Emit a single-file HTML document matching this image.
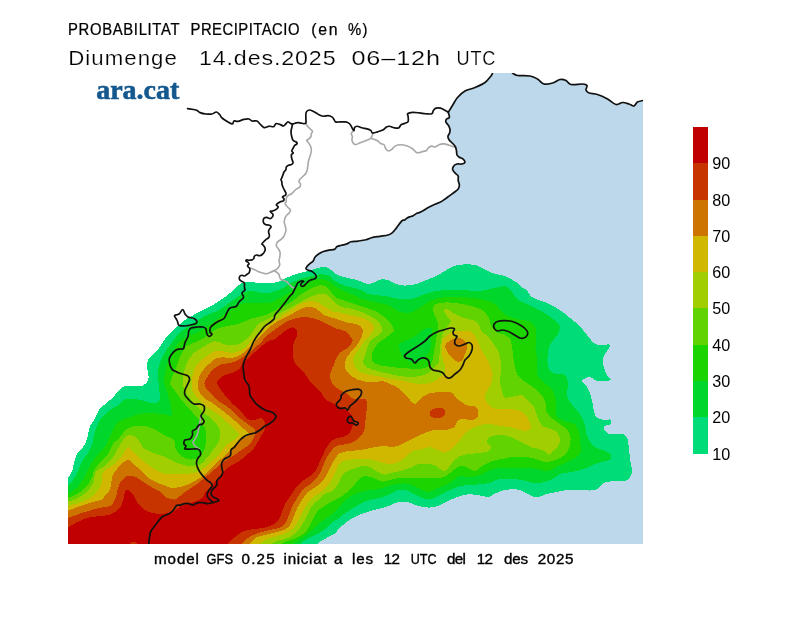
<!DOCTYPE html>
<html><head><meta charset="utf-8"><title>Probabilitat precipitacio</title>
<style>
html,body{margin:0;padding:0;background:#fff;}
body{width:800px;height:617px;position:relative;overflow:hidden;font-family:"Liberation Sans",sans-serif;}
svg text{font-family:"Liberation Sans",sans-serif;fill:#000;}
</style></head><body>
<svg width="800" height="617" viewBox="0 0 800 617" style="position:absolute;left:0;top:0">
<defs><clipPath id="m"><rect x="68" y="73" width="575" height="471"/></clipPath></defs>
<g clip-path="url(#m)"><g shape-rendering="crispEdges">
<path d="M492.5 73 491 76 485 82.5 475 87.5 465 91 457.5 97.5 452.75 105 450.1 109.4 448.4 112.4 449.2 115.5 449.2 117.7 446.6 119 445.75 121.6 447.5 124.25 449.2 126.9 450.1 130.4 449.2 133.9 447.9 136.5 449.2 140 452.75 143.5 455.5 147 456.5 151 457 155 459.4 157.3 463.1 159.1 464.9 162.2 461.9 164 457 164 453.4 166.4 452.8 170.1 455.8 173.7 458.2 176.1 458.2 180.4 459.4 185.3 458.2 188.9 454.6 192 449.7 195.6 444.8 199.2 440 202.3 433.9 204.7 427.8 207.75 423 210.8 419.3 212.6 416.9 213.2 413.2 215.65 409.6 216.9 407.2 218.1 404.7 219.9 402.3 220.5 400.4 222.6 396.3 228.1 392.2 232.9 388 235 379.8 236.3 371.5 237.7 366 239.8 357.8 241.1 350.9 241.8 346.8 243.9 341.3 245.3 337.1 246.6 334.4 249.4 328.9 250.1 323.4 251.5 319.3 253.5 315.1 257 313.1 261.1 309.6 263.8 306.9 266.6 306 268.75 308.25 270.25 311.25 271 314.25 273.25 316 275.5 316 277.75 313.5 279.25 310.5 280 308.25 281.5 306 283.75 303.75 286 301.5 286 300.75 284.5 302.25 282.25 303.75 281.5 302.25 280.75 300 281.5 297.75 283 296.25 286 294.75 289 292.5 293.5 290 296 285 302.5 280 309 275 315 274 319 270 322.5 265 326 261 331 256 337.5 252.5 344 250 350 246.5 356 243.5 363.5 243.5 371 245 380 249 386 250 395 254 401 257.5 405 265 410 272.5 412.5 276 416 274 420 269 424 265 426 260 430 255 433 250 434 245 436 240 440 236 445 234 447.5 231 450 230.6 455 228.6 456.9 224.7 458.9 221.8 462.8 221.8 467.6 222.8 472.5 220.9 476.4 217 480.3 217 484.2 215 487.1 212.1 490 211.1 493.9 213.1 496.8 217 498.8 218.9 500.7 216 501.7 212.1 502.7 207.2 503.6 203.3 502.7 199.5 502.7 195.6 503.6 192.6 505.1 188.8 503.6 184.9 503.6 180 505.1 176.5 505.5 173.5 510 169 513.75 161.5 517.5 155.5 525 151 531 149.5 537 148.75 544 L643 544 L643 100.5 L643 100.5 L637.5 102 L634 106 L629 104 L622.5 102.5 L616 104.5 L607.5 99 L597.5 94.5 L589 93 L586 90 L587 85.5 L582.5 84 L571 84.5 L566 80.5 L560 79.5 L552.5 83 L544 84 L537.5 79 L530 76 L517.5 75.5 L512.5 73 L492.5 73 Z" fill="#bdd8eb"/>
<path d="M68 477.5C68.38 477 69.5 475.75 70.25 474.5C71 473.25 71.88 472 72.5 470C73.12 468 73.5 464.5 74 462.5C74.5 460.5 75 459.42 75.5 458C76 456.58 76.25 455.33 77 454C77.75 452.67 78.73 451.5 80 450C81.27 448.5 83.27 447.5 84.6 445C85.93 442.5 87.1 438.17 88 435C88.9 431.83 89 428.5 90 426C91 423.5 92.5 422.67 94 420C95.5 417.33 97.33 412.5 99 410C100.67 407.5 102.17 406.67 104 405C105.83 403.33 108.17 401.67 110 400C111.83 398.33 113.5 396.67 115 395C116.5 393.33 117.33 391.5 119 390C120.67 388.5 122.33 386.67 125 386C127.67 385.33 132.04 386.07 135 386C137.96 385.93 140.62 386.43 142.75 385.6C144.88 384.77 146.79 382.6 147.75 381C148.71 379.4 148.54 377.83 148.5 376C148.46 374.17 147.75 371.83 147.5 370C147.25 368.17 146.92 366.67 147 365C147.08 363.33 147.17 361.67 148 360C148.83 358.33 150.17 357 152 355C153.83 353 156.83 350.67 159 348C161.17 345.33 163 341.5 165 339C167 336.5 168.83 335.17 171 333C173.17 330.83 175.67 328.17 178 326C180.33 323.83 182.58 321.73 185 320C187.42 318.27 190 317.02 192.5 315.6C195 314.18 197.5 312.77 200 311.5C202.5 310.23 204.83 309.42 207.5 308C210.17 306.58 213.08 304.83 216 303C218.92 301.17 222.25 299 225 297C227.75 295 230.17 293 232.5 291C234.83 289 237.33 286.33 239 285C240.67 283.67 240.67 283.5 242.5 283C244.33 282.5 247.08 282 250 282C252.92 282 256.67 282.83 260 283C263.33 283.17 267.08 283.17 270 283C272.92 282.83 275 282.75 277.5 282C280 281.25 282.5 279.58 285 278.5C287.5 277.42 290 276.42 292.5 275.5C295 274.58 297.5 273.75 300 273C302.5 272.25 305.5 271.5 307.5 271C309.5 270.5 310.25 270.5 312 270C313.75 269.5 316 268.5 318 268C320 267.5 322.33 267 324 267C325.67 267 326.58 267.33 328 268C329.42 268.67 330.92 269.83 332.5 271C334.08 272.17 335.58 274 337.5 275C339.42 276 341.5 276.33 344 277C346.5 277.67 349.83 278.33 352.5 279C355.17 279.67 357.5 280.17 360 281C362.5 281.83 365.42 283.67 367.5 284C369.58 284.33 370.58 283.67 372.5 283C374.42 282.33 377.08 280.6 379 280C380.92 279.4 382.17 279.23 384 279.4C385.83 279.57 387.75 280.17 390 281C392.25 281.83 395 283.63 397.5 284.4C400 285.17 402.08 285.6 405 285.6C407.92 285.6 411.83 285.17 415 284.4C418.17 283.63 421.08 282.15 424 281C426.92 279.85 429.83 278.67 432.5 277.5C435.17 276.33 437.5 275.35 440 274C442.5 272.65 445 270.8 447.5 269.4C450 268 452.08 266.43 455 265.6C457.92 264.77 461.67 264.5 465 264.4C468.33 264.3 472.08 264.4 475 265C477.92 265.6 480 266.83 482.5 268C485 269.17 487.5 270.93 490 272C492.5 273.07 495 273.73 497.5 274.4C500 275.07 502.5 275.07 505 276C507.5 276.93 510.42 278.83 512.5 280C514.58 281.17 515.83 281.75 517.5 283C519.17 284.25 520.83 286.17 522.5 287.5C524.17 288.83 526.08 289.5 527.5 291C528.92 292.5 529.42 295.08 531 296.5C532.58 297.92 534.5 298.5 537 299.5C539.5 300.5 543 301.25 546 302.5C549 303.75 552 305.25 555 307C558 308.75 561 310.75 564 313C567 315.25 570.5 318.5 573 320.5C575.5 322.5 577 323 579 325C581 327 583 330 585 332.5C587 335 589 338 591 340C593 342 594 343.75 597 344.5C600 345.25 606.83 344.25 609 344.5C611.17 344.75 610.75 344.25 610 346C609.25 347.75 605.67 352.67 604.5 355C603.33 357.33 603.08 357.83 603 360C602.92 362.17 603.25 365.4 604 368C604.75 370.6 606.4 373.6 607.5 375.6C608.6 377.6 612.18 379.1 610.6 380C609.02 380.9 601.6 381.5 598 381C594.4 380.5 591.67 377 589 377C586.33 377 582.57 379.67 582 381C581.43 382.33 584.43 383.33 585.6 385C586.77 386.67 587.93 388.4 589 391C590.07 393.6 591 396.65 592 400.6C593 404.55 593.67 411.63 595 414.7C596.33 417.77 598.17 418.12 600 419C601.83 419.88 604.33 419.92 606 420C607.67 420.08 609.17 418.83 610 419.5C610.83 420.17 611.83 422.92 611 424C610.17 425.08 606.17 425.17 605 426C603.83 426.83 603.5 427.75 604 429C604.5 430.25 606.08 432.67 608 433.5C609.92 434.33 612.83 433.83 615.5 434C618.17 434.17 622 433.67 624 434.5C626 435.33 626.67 436.42 627.5 439C628.33 441.58 628.5 446.17 629 450C629.5 453.83 630 458.25 630.5 462C631 465.75 632.5 469.5 632 472.5C631.5 475.5 629.5 478.58 627.5 480C625.5 481.42 623 480.75 620 481C617 481.25 612.5 481 609.5 481.5C606.5 482 604 482.75 602 484C600 485.25 599.5 487.92 597.5 489C595.5 490.08 592.75 490.33 590 490.5C587.25 490.67 584.75 490.08 581 490C577.25 489.92 571.5 489.67 567.5 490C563.5 490.33 560.75 491.25 557 492C553.25 492.75 548 493.67 545 494.5C542 495.33 540.83 496.58 539 497C537.17 497.42 536.17 497.67 534 497C531.83 496.33 528.33 494.17 526 493C523.67 491.83 522.67 490.6 520 490C517.33 489.4 513.17 489.23 510 489.4C506.83 489.57 503.92 490.07 501 491C498.08 491.93 494.75 494 492.5 495C490.25 496 490 497 487.5 497C485 497 480.83 495.43 477.5 495C474.17 494.57 470.42 494.23 467.5 494.4C464.58 494.57 462.5 495.23 460 496C457.5 496.77 454.67 498.08 452.5 499C450.33 499.92 448.42 500.83 447 501.5C445.58 502.17 445.5 502.25 444 503C442.5 503.75 440.33 505.25 438 506C435.67 506.75 432.5 507.33 430 507.5C427.5 507.67 425.5 507.42 423 507C420.5 506.58 417.5 505.83 415 505C412.5 504.17 410.67 502.5 408 502C405.33 501.5 401.5 501.67 399 502C396.5 502.33 395.17 503.17 393 504C390.83 504.83 388.5 506.17 386 507C383.5 507.83 380.67 508.33 378 509C375.33 509.67 373.17 510 370 511C366.83 512 362.33 513.58 359 515C355.67 516.42 352.75 517.75 350 519.5C347.25 521.25 344.67 523.58 342.5 525.5C340.33 527.42 338.42 529.58 337 531C335.58 532.42 335.58 532.92 334 534C332.42 535.08 329.67 536.33 327.5 537.5C325.33 538.67 322.67 539.92 321 541C319.33 542.08 318.08 543.5 317.5 544L317.5 544L68 544L68 477.5Z" fill="rgb(0,220,120)"/>
<path d="M68 485.75C68.5 485.25 69.88 484.12 71 482.75C72.12 481.38 73.62 479.38 74.75 477.5C75.88 475.62 76.88 473.38 77.75 471.5C78.62 469.62 79.12 468.25 80 466.25C80.88 464.25 81.88 461.38 83 459.5C84.12 457.62 85.67 456.58 86.75 455C87.83 453.42 88.62 451.67 89.5 450C90.38 448.33 91.25 447.5 92 445C92.75 442.5 93.25 437.92 94 435C94.75 432.08 95.5 430 96.5 427.5C97.5 425 98.58 422.25 100 420C101.42 417.75 103.08 415.83 105 414C106.92 412.17 109.17 410.5 111.5 409C113.83 407.5 116.92 406.5 119 405C121.08 403.5 122.17 401 124 400C125.83 399 127.08 399 130 399C132.92 399 138.17 399.33 141.5 400C144.83 400.67 147.46 402.57 150 403C152.54 403.43 155.12 403.1 156.75 402.6C158.38 402.1 159.29 401.77 159.75 400C160.21 398.23 159.62 394.5 159.5 392C159.38 389.5 159.25 387.33 159 385C158.75 382.67 158.17 380.17 158 378C157.83 375.83 157.88 373.96 158 372C158.12 370.04 158.25 368.33 158.75 366.25C159.25 364.17 160 361.75 161 359.5C162 357.25 163.38 355 164.75 352.75C166.12 350.5 167.75 348.12 169.25 346C170.75 343.88 171.96 342.25 173.75 340C175.54 337.75 177.96 334.5 180 332.5C182.04 330.5 184.12 329.38 186 328C187.88 326.62 189.5 325.38 191.25 324.25C193 323.12 194.62 322.38 196.5 321.25C198.38 320.12 200.25 318.75 202.5 317.5C204.75 316.25 207.08 315.08 210 313.75C212.92 312.42 216.83 311.29 220 309.5C223.17 307.71 226.08 305.08 229 303C231.92 300.92 234.83 298.83 237.5 297C240.17 295.17 242.5 293 245 292C247.5 291 250 290.9 252.5 291C255 291.1 257.5 292.27 260 292.6C262.5 292.93 265.83 292.98 267.5 293C269.17 293.02 268.33 293.17 270 292.75C271.67 292.33 275 291.5 277.5 290.5C280 289.5 282.5 288.12 285 286.75C287.5 285.38 290 283.5 292.5 282.25C295 281 297.5 280.12 300 279.25C302.5 278.38 305.25 277.54 307.5 277C309.75 276.46 311.5 276.43 313.5 276C315.5 275.57 317.5 274.61 319.5 274.4C321.5 274.19 323.75 274.48 325.5 274.75C327.25 275.02 328.42 274.96 330 276C331.58 277.04 332.67 279.4 335 281C337.33 282.6 341.08 284.52 344 285.6C346.92 286.68 349.67 286.77 352.5 287.5C355.33 288.23 358.5 289 361 290C363.5 291 365.17 292.67 367.5 293.5C369.83 294.33 372.08 294.58 375 295C377.92 295.42 382.08 295.58 385 296C387.92 296.42 389.58 296.93 392.5 297.5C395.42 298.07 399.17 299.19 402.5 299.4C405.83 299.61 409.42 299.4 412.5 298.75C415.58 298.1 418.08 296.54 421 295.5C423.92 294.46 426.83 293.32 430 292.5C433.17 291.68 436.67 291.02 440 290.6C443.33 290.18 446.67 290.1 450 290C453.33 289.9 456.67 289.9 460 290C463.33 290.1 466.67 290.43 470 290.6C473.33 290.77 476.67 291.27 480 291C483.33 290.73 486.67 289.67 490 289C493.33 288.33 497.5 287.5 500 287C502.5 286.5 503.33 285.67 505 286C506.67 286.33 508.5 287.5 510 289C511.5 290.5 512.33 293 514 295C515.67 297 517.75 299.5 520 301C522.25 302.5 525.17 302.88 527.5 304C529.83 305.12 531.17 306.25 534 307.75C536.83 309.25 541 310.88 544.5 313C548 315.12 552.5 318.25 555 320.5C557.5 322.75 559 324.25 559.5 326.5C560 328.75 559.25 331.5 558 334C556.75 336.5 553.5 339.25 552 341.5C550.5 343.75 549.75 344.75 549 347.5C548.25 350.25 547.67 354.92 547.5 358C547.33 361.08 547.58 363.83 548 366C548.42 368.17 548.67 369.67 550 371C551.33 372.33 553.5 373.33 556 374C558.5 374.67 563 373.43 565 375C567 376.57 567.67 379.9 568 383.4C568.33 386.9 566.42 392.57 567 396C567.58 399.43 569.5 401.17 571.5 404C573.5 406.83 577.08 410.33 579 413C580.92 415.67 581.92 417.58 583 420C584.08 422.42 584.83 424.75 585.5 427.5C586.17 430.25 585.75 433.5 587 436.5C588.25 439.5 590.5 443.25 593 445.5C595.5 447.75 599.25 448.75 602 450C604.75 451.25 608 451.5 609.5 453C611 454.5 612.25 457.5 611 459C609.75 460.5 605 461 602 462C599 463 596.25 463.75 593 465C589.75 466.25 586 468.33 582.5 469.5C579 470.67 575.75 471.25 572 472C568.25 472.75 563.5 472.67 560 474C556.5 475.33 554.5 478.5 551 480C547.5 481.5 542.08 482.5 539 483C535.92 483.5 535.25 483.5 532.5 483C529.75 482.5 526.25 480.67 522.5 480C518.75 479.33 513.92 479.17 510 479C506.08 478.83 502.17 478.42 499 479C495.83 479.58 493.75 481.67 491 482.5C488.25 483.33 486 483.58 482.5 484C479 484.42 473.75 484.67 470 485C466.25 485.33 462.92 485.33 460 486C457.08 486.67 454.83 488 452.5 489C450.17 490 448.75 490.67 446 492C443.25 493.33 438.83 495.75 436 497C433.17 498.25 431.33 499.33 429 499.5C426.67 499.67 424.5 498.92 422 498C419.5 497.08 416.5 495.25 414 494C411.5 492.75 409.33 491.17 407 490.5C404.67 489.83 402 489.83 400 490C398 490.17 397 490.67 395 491.5C393 492.33 390.5 493.92 388 495C385.5 496.08 383 497.17 380 498C377 498.83 373 499.17 370 500C367 500.83 364.5 501.83 362 503C359.5 504.17 357 505.83 355 507C353 508.17 351.83 508.83 350 510C348.17 511.17 345.67 512.75 344 514C342.33 515.25 341.92 516.08 340 517.5C338.08 518.92 335 520.58 332.5 522.5C330 524.42 327.5 527.08 325 529C322.5 530.92 320 532.58 317.5 534C315 535.42 312.25 536.33 310 537.5C307.75 538.67 305.5 539.92 304 541C302.5 542.08 301.5 543.5 301 544L301 544L68 544L68 485.75Z" fill="rgb(0,215,42)"/>
<path d="M68 493.25C68.75 492.88 70.88 492.12 72.5 491C74.12 489.88 76 488.38 77.75 486.5C79.5 484.62 81.5 482.12 83 479.75C84.5 477.38 85.62 474.5 86.75 472.25C87.88 470 88.62 468.25 89.75 466.25C90.88 464.25 92.25 462.12 93.5 460.25C94.75 458.38 95.83 456.71 97.25 455C98.67 453.29 100.46 451.67 102 450C103.54 448.33 105.33 447.08 106.5 445C107.67 442.92 107.92 440 109 437.5C110.08 435 111.75 432.25 113 430C114.25 427.75 115.08 425.67 116.5 424C117.92 422.33 119.42 421.08 121.5 420C123.58 418.92 126.08 418.5 129 417.5C131.92 416.5 135.5 414.79 139 414C142.5 413.21 146.92 412.83 150 412.75C153.08 412.67 155 413.25 157.5 413.5C160 413.75 162.68 413.88 165 414.25C167.32 414.62 170.4 416.88 171.4 415.75C172.4 414.62 171.32 410.12 171 407.5C170.68 404.88 170.12 402.5 169.5 400C168.88 397.5 168 395 167.25 392.5C166.5 390 165.54 387.25 165 385C164.46 382.75 163.92 381.25 164 379C164.08 376.75 165 374 165.5 371.5C166 369 166.25 366.5 167 364C167.75 361.5 168.75 359 170 356.5C171.25 354 172.88 351.5 174.5 349C176.12 346.5 177.67 343.5 179.75 341.5C181.83 339.5 184.62 338.25 187 337C189.38 335.75 191.5 335.17 194 334C196.5 332.83 199.33 331.5 202 330C204.67 328.5 207.17 327 210 325C212.83 323 215.5 320.58 219 318C222.5 315.42 226.83 312 231 309.5C235.17 307 239.83 304.08 244 303C248.17 301.92 251.83 303 256 303C260.17 303 265.42 303.58 269 303C272.58 302.42 274.83 300.83 277.5 299.5C280.17 298.17 282.5 296.5 285 295C287.5 293.5 290 292 292.5 290.5C295 289 297.5 287.38 300 286C302.5 284.62 305.25 283.25 307.5 282.25C309.75 281.25 311.5 280.5 313.5 280C315.5 279.5 317.5 279.25 319.5 279.25C321.5 279.25 323.75 279.54 325.5 280C327.25 280.46 328.42 281 330 282C331.58 283 332.67 284.5 335 286C337.33 287.5 340.83 289.5 344 291C347.17 292.5 350.92 293.67 354 295C357.08 296.33 359.83 298 362.5 299C365.17 300 367.5 300.42 370 301C372.5 301.58 374.58 301.83 377.5 302.5C380.42 303.17 384.58 303.92 387.5 305C390.42 306.08 392.92 307.83 395 309C397.08 310.17 397.5 311.42 400 312C402.5 312.58 407.08 313 410 312.5C412.92 312 415 310.42 417.5 309C420 307.58 422.5 305.5 425 304C427.5 302.5 429.58 301.08 432.5 300C435.42 298.92 438.75 298 442.5 297.5C446.25 297 450.83 297 455 297C459.17 297 463.33 297.17 467.5 297.5C471.67 297.83 475.83 298.17 480 299C484.17 299.83 489.5 301.17 492.5 302.5C495.5 303.83 496.25 305.25 498 307C499.75 308.75 501 311.33 503 313C505 314.67 507.33 315.92 510 317C512.67 318.08 516.33 318.92 519 319.5C521.67 320.08 524 320.08 526 320.5C528 320.92 529.42 320.75 531 322C532.58 323.25 534.67 325.5 535.5 328C536.33 330.5 536 333.75 536 337C536 340.25 535.33 344 535.5 347.5C535.67 351 536.75 354.25 537 358C537.25 361.75 536.83 367 537 370C537.17 373 536.67 373.77 538 376C539.33 378.23 542.5 380.9 545 383.4C547.5 385.9 551.17 387.9 553 391C554.83 394.1 555.5 398.05 556 402C556.5 405.95 555 411.7 556 414.7C557 417.7 560 418.78 562 420C564 421.22 565.83 421.25 568 422C570.17 422.75 573.17 422.83 575 424.5C576.83 426.17 578.17 429.25 579 432C579.83 434.75 579.67 438 580 441C580.33 444 581.33 447.5 581 450C580.67 452.5 580.25 454 578 456C575.75 458 571 460.25 567.5 462C564 463.75 560.25 465 557 466.5C553.75 468 551 470.5 548 471C545 471.5 542 470 539 469.5C536 469 534 468.25 530 468C526 467.75 520 468 515 468C510 468 504.17 467.67 500 468C495.83 468.33 493.33 468.83 490 470C486.67 471.17 483.33 473.75 480 475C476.67 476.25 473.33 477.33 470 477.5C466.67 477.67 462.92 475.42 460 476C457.08 476.58 454.83 479.5 452.5 481C450.17 482.5 448.08 484 446 485C443.92 486 442 486.17 440 487C438 487.83 436 489.17 434 490C432 490.83 430.33 492.17 428 492C425.67 491.83 422.67 490.17 420 489C417.33 487.83 414.5 485.92 412 485C409.5 484.08 407.67 483.67 405 483.5C402.33 483.33 398.83 483.58 396 484C393.17 484.42 390.67 485.17 388 486C385.33 486.83 383 488.33 380 489C377 489.67 372.5 489.67 370 490C367.5 490.33 367.58 490.33 365 491C362.42 491.67 358 492.25 354.5 494C351 495.75 346.42 499.5 344 501.5C341.58 503.5 341.92 503.92 340 506C338.08 508.08 335 511.83 332.5 514C330 516.17 327.5 517.17 325 519C322.5 520.83 319.83 523 317.5 525C315.17 527 313.08 529.17 311 531C308.92 532.83 307.25 534.33 305 536C302.75 537.67 299.58 539.67 297.5 541C295.42 542.33 293.33 543.5 292.5 544L292.5 544L68 544L68 493.25Z" fill="rgb(28,213,0)"/>
<path d="M399.25 344.5C399.88 342.88 401.75 342.5 403.75 341.5C405.75 340.5 409 339.62 411.25 338.5C413.5 337.38 415.5 336 417.25 334.75C419 333.5 420.12 332.12 421.75 331C423.38 329.88 425.38 328.38 427 328C428.62 327.62 430.75 327.75 431.5 328.75C432.25 329.75 431.62 331.5 431.5 334C431.38 336.5 431 341.12 430.75 343.75C430.5 346.38 430.62 347.88 430 349.75C429.38 351.62 428 353.62 427 355C426 356.38 425.5 356.75 424 358C422.5 359.25 419.75 361.62 418 362.5C416.25 363.38 415.25 363.62 413.5 363.25C411.75 362.88 409.25 361.38 407.5 360.25C405.75 359.12 404.25 358 403 356.5C401.75 355 400.62 353.25 400 351.25C399.38 349.25 398.62 346.12 399.25 344.5Z" fill="rgb(0,215,42)"/>
<path d="M68 497.75C69 497.38 71.75 496.62 74 495.5C76.25 494.38 79.25 492.75 81.5 491C83.75 489.25 85.75 487.25 87.5 485C89.25 482.75 90.88 480 92 477.5C93.12 475 93.25 472.12 94.25 470C95.25 467.88 96.5 466.5 98 464.75C99.5 463 101.62 461.12 103.25 459.5C104.88 457.88 106.46 456.92 107.75 455C109.04 453.08 109.96 450.17 111 448C112.04 445.83 112.83 443.33 114 442C115.17 440.67 116.75 441.17 118 440C119.25 438.83 120.08 436.83 121.5 435C122.92 433.17 124.25 430.5 126.5 429C128.75 427.5 131.92 426.5 135 426C138.08 425.5 141.83 425.5 145 426C148.17 426.5 150.83 427.5 154 429C157.17 430.5 160.67 433.17 164 435C167.33 436.83 172.08 437.92 174 440C175.92 442.08 174.5 445 175.5 447.5C176.5 450 178.25 453.17 180 455C181.75 456.83 184 457.75 186 458.5C188 459.25 190.17 459.58 192 459.5C193.83 459.42 195.5 458.58 197 458C198.5 457.42 199.83 457.33 201 456C202.17 454.67 203.17 452.17 204 450C204.83 447.83 205.75 446.33 206 443C206.25 439.67 206.08 433.04 205.5 430C204.92 426.96 203.62 426.5 202.5 424.75C201.38 423 200.25 421.38 198.75 419.5C197.25 417.62 195.38 415.62 193.5 413.5C191.62 411.38 189.5 409 187.5 406.75C185.5 404.5 183.38 402.38 181.5 400C179.62 397.62 178.08 395 176.25 392.5C174.42 390 171.29 387.25 170.5 385C169.71 382.75 170.96 381 171.5 379C172.04 377 172.88 375.12 173.75 373C174.62 370.88 175.88 368.5 176.75 366.25C177.62 364 178.12 361.75 179 359.5C179.88 357.25 180.75 355 182 352.75C183.25 350.5 184.83 347.5 186.5 346C188.17 344.5 189.83 344.75 192 343.75C194.17 342.75 197.25 341.12 199.5 340C201.75 338.88 203.5 338.25 205.5 337C207.5 335.75 209.5 333.88 211.5 332.5C213.5 331.12 215.25 329.75 217.5 328.75C219.75 327.75 222.5 327.12 225 326.5C227.5 325.88 230 325.5 232.5 325C235 324.5 237.08 324.5 240 323.5C242.92 322.5 246.25 320.25 250 319C253.75 317.75 258.75 317.17 262.5 316C266.25 314.83 269.42 313.5 272.5 312C275.58 310.5 278.92 308 281 307C283.08 306 283.08 307 285 306C286.92 305 290 302.83 292.5 301C295 299.17 297.5 296.75 300 295C302.5 293.25 305 291.88 307.5 290.5C310 289.12 312.75 287.62 315 286.75C317.25 285.88 319 285.21 321 285.25C323 285.29 325.33 285.88 327 287C328.67 288.12 329.5 290.25 331 292C332.5 293.75 333.67 296 336 297.5C338.33 299 341.83 299.92 345 301C348.17 302.08 351.67 302.92 355 304C358.33 305.08 361.67 306.33 365 307.5C368.33 308.67 371.67 309.33 375 311C378.33 312.67 382.33 315.33 385 317.5C387.67 319.67 389.5 321.92 391 324C392.5 326.08 393.75 328.58 394 330C394.25 331.42 393.83 331.25 392.5 332.5C391.17 333.75 388.5 335.58 386 337.5C383.5 339.42 379.75 341.5 377.5 344C375.25 346.5 373.42 349.83 372.5 352.5C371.58 355.17 371.42 358.08 372 360C372.58 361.92 374 363 376 364C378 365 380.67 365.42 384 366C387.33 366.58 392.5 367.17 396 367.5C399.5 367.83 401.83 367.75 405 368C408.17 368.25 411.67 369 415 369C418.33 369 422.5 368.67 425 368C427.5 367.33 428.83 366 430 365C431.17 364 431.33 364.17 432 362C432.67 359.83 433.33 355.67 434 352C434.67 348.33 435.33 344 436 340C436.67 336 437.83 331.33 438 328C438.17 324.67 437.67 322.33 437 320C436.33 317.67 434.67 316 434 314C433.33 312 432.67 309.67 433 308C433.33 306.33 434 304.92 436 304C438 303.08 441.83 302.67 445 302.5C448.17 302.33 451.25 302.58 455 303C458.75 303.42 463.33 304 467.5 305C471.67 306 477.08 307.75 480 309C482.92 310.25 483.5 311 485 312.5C486.5 314 488 315.82 489 318C490 320.18 489.83 323.27 491 325.6C492.17 327.93 494.08 330.6 496 332C497.92 333.4 500.33 333.08 502.5 334C504.67 334.92 507.58 336.33 509 337.5C510.42 338.67 510.42 338.92 511 341C511.58 343.08 512 346.42 512.5 350C513 353.58 513.17 358.33 514 362.5C514.83 366.67 515.83 371.92 517.5 375C519.17 378.08 521.92 379.33 524 381C526.08 382.67 527.33 383 530 385C532.67 387 537.5 390.4 540 393C542.5 395.6 543.92 397.5 545 400.6C546.08 403.7 545.17 408.53 546.5 411.6C547.83 414.67 550.42 416.67 553 419C555.58 421.33 559.58 423.77 562 425.6C564.42 427.43 566.08 427.93 567.5 430C568.92 432.07 570.25 434.92 570.5 438C570.75 441.08 570.25 445.5 569 448.5C567.75 451.5 565.5 454 563 456C560.5 458 557 459.5 554 460.5C551 461.5 548 462.25 545 462C542 461.75 539.33 459.83 536 459C532.67 458.17 528.92 457.33 525 457C521.08 456.67 516.25 456.67 512.5 457C508.75 457.33 505.83 458.33 502.5 459C499.17 459.67 495.83 459.83 492.5 461C489.17 462.17 485.42 464.33 482.5 466C479.58 467.67 477.5 470.75 475 471C472.5 471.25 470 468.33 467.5 467.5C465 466.67 462.5 465.42 460 466C457.5 466.58 454.83 469.33 452.5 471C450.17 472.67 448.08 474.83 446 476C443.92 477.17 442.67 477.58 440 478C437.33 478.42 433.33 478.5 430 478.5C426.67 478.5 423.33 478.08 420 478C416.67 477.92 413.67 478 410 478C406.33 478 401.33 477.67 398 478C394.67 478.33 392.67 479.42 390 480C387.33 480.58 384.33 481.67 382 481.5C379.67 481.33 378 479.75 376 479C374 478.25 371.83 477.5 370 477C368.17 476.5 366.83 475.67 365 476C363.17 476.33 361 477.25 359 479C357 480.75 355.17 484.17 353 486.5C350.83 488.83 348.17 491.17 346 493C343.83 494.83 342.67 495.92 340 497.5C337.33 499.08 333.33 500.58 330 502.5C326.67 504.42 322.5 506.92 320 509C317.5 511.08 316.67 512.33 315 515C313.33 517.67 311.67 522.08 310 525C308.33 527.92 307.08 530.42 305 532.5C302.92 534.58 300.42 536.08 297.5 537.5C294.58 538.92 290.25 539.92 287.5 541C284.75 542.08 282.08 543.5 281 544L281 544L68 544L68 497.75Z" fill="rgb(97,211,0)"/>
<path d="M68 501.5C68.88 501.25 71.75 500.5 73.25 500C74.75 499.5 75.38 499.38 77 498.5C78.62 497.62 81.12 496.12 83 494.75C84.88 493.38 86.75 491.88 88.25 490.25C89.75 488.62 91 486.75 92 485C93 483.25 93.75 481.62 94.25 479.75C94.75 477.88 94.38 475.38 95 473.75C95.62 472.12 96.5 471.25 98 470C99.5 468.75 102 467.75 104 466.25C106 464.75 108.25 462.88 110 461C111.75 459.12 112.83 457.67 114.5 455C116.17 452.33 118 448.17 120 445C122 441.83 124.17 437.5 126.5 436C128.83 434.5 131.92 435.17 134 436C136.08 436.83 137.67 439.33 139 441C140.33 442.67 141 444.67 142 446C143 447.33 143.25 447.92 145 449C146.75 450.08 149.58 451.33 152.5 452.5C155.42 453.67 159.17 454.58 162.5 456C165.83 457.42 169.58 459.67 172.5 461C175.42 462.33 177.75 463.25 180 464C182.25 464.75 183.9 465.22 186 465.5C188.1 465.78 190.35 465.83 192.6 465.7C194.85 465.57 197.55 465.52 199.5 464.7C201.45 463.88 202.68 462.42 204.3 460.8C205.92 459.18 207.75 456.8 209.2 455C210.65 453.2 211.62 451.83 213 450C214.38 448.17 216.33 446.17 217.5 444C218.67 441.83 219.58 439.33 220 437C220.42 434.67 220.83 432.42 220 430C219.17 427.58 216.92 424.75 215 422.5C213.08 420.25 210.33 418 208.5 416.5C206.67 415 205.5 414.75 204 413.5C202.5 412.25 201 410.5 199.5 409C198 407.5 196.5 406.25 195 404.5C193.5 402.75 192 400.5 190.5 398.5C189 396.5 187.25 394.75 186 392.5C184.75 390.25 183.54 387 183 385C182.46 383 182.67 382.25 182.75 380.5C182.83 378.75 183.12 376.5 183.5 374.5C183.88 372.5 184.38 370.5 185 368.5C185.62 366.5 186.38 364.38 187.25 362.5C188.12 360.62 189.12 358.88 190.25 357.25C191.38 355.62 192.38 354.12 194 352.75C195.62 351.38 198 350.25 200 349C202 347.75 203.71 346.5 206 345.25C208.29 344 211.58 342 213.75 341.5C215.92 341 217.12 341.75 219 342.25C220.88 342.75 222.75 344 225 344.5C227.25 345 230 345.38 232.5 345.25C235 345.12 237.92 344.62 240 343.75C242.08 342.88 243.17 341.62 245 340C246.83 338.38 249.25 336 251 334C252.75 332 254.5 329.5 255.5 328C256.5 326.5 255.83 326 257 325C258.17 324 260.33 323.17 262.5 322C264.67 320.83 267.42 319.33 270 318C272.58 316.67 275.08 315.42 278 314C280.92 312.58 285 310.83 287.5 309.5C290 308.17 290.92 307.17 293 306C295.08 304.83 297.58 303.83 300 302.5C302.42 301.17 305 299.25 307.5 298C310 296.75 312.75 295.75 315 295C317.25 294.25 319 293.5 321 293.5C323 293.5 325.33 294.25 327 295C328.67 295.75 329.5 296.5 331 298C332.5 299.5 333.83 302.42 336 304C338.17 305.58 341.67 306.75 344 307.5C346.33 308.25 347.75 308 350 308.5C352.25 309 354.58 309.5 357.5 310.5C360.42 311.5 364.58 313.08 367.5 314.5C370.42 315.92 372.92 317.42 375 319C377.08 320.58 378.75 322.17 380 324C381.25 325.83 382.67 328.17 382.5 330C382.33 331.83 380.92 333.33 379 335C377.08 336.67 372.92 337.92 371 340C369.08 342.08 368.5 344.83 367.5 347.5C366.5 350.17 365.75 353.58 365 356C364.25 358.42 362.58 360.08 363 362C363.42 363.92 365.08 366 367.5 367.5C369.92 369 373.75 369.92 377.5 371C381.25 372.08 386.25 373.17 390 374C393.75 374.83 396.67 375.5 400 376C403.33 376.5 406.67 377 410 377C413.33 377 417 376.67 420 376C423 375.33 425.5 374.5 428 373C430.5 371.5 433.17 368.83 435 367C436.83 365.17 438.33 363.5 439 362C439.67 360.5 438.83 360 439 358C439.17 356 439.67 353 440 350C440.33 347 440.5 342.83 441 340C441.5 337.17 442 335.17 443 333C444 330.83 445.67 329 447 327C448.33 325 451 322.83 451 321C451 319.17 448.17 317.67 447 316C445.83 314.33 444 312.17 444 311C444 309.83 445.58 308.75 447 309C448.42 309.25 450.17 311.17 452.5 312.5C454.83 313.83 458.08 315.83 461 317C463.92 318.17 467.33 318.67 470 319.5C472.67 320.33 475.33 320.67 477 322C478.67 323.33 479 325.67 480 327.5C481 329.33 481.75 331.58 483 333C484.25 334.42 485.5 333.83 487.5 336C489.5 338.17 492.92 342.67 495 346C497.08 349.33 499 352.17 500 356C501 359.83 501 364.83 501 369C501 373.17 499.83 377.33 500 381C500.17 384.67 501.17 388.25 502 391C502.83 393.75 502.83 396.67 505 397.5C507.17 398.33 512.08 396.33 515 396C517.92 395.67 520.33 394.73 522.5 395.5C524.67 396.27 526.08 398.68 528 400.6C529.92 402.52 532.5 404.43 534 407C535.5 409.57 535.67 412.9 537 416C538.33 419.1 540.17 423.6 542 425.6C543.83 427.6 545.5 426.93 548 428C550.5 429.07 555 430.08 557 432C559 433.92 559.75 437.25 560 439.5C560.25 441.75 559.75 443.5 558.5 445.5C557.25 447.5 554 450 552.5 451.5C551 453 551.25 454.75 549.5 454.5C547.75 454.25 544.83 451.17 542 450C539.17 448.83 535.33 448.5 532.5 447.5C529.67 446.5 527.5 445.25 525 444C522.5 442.75 520.42 441.33 517.5 440C514.58 438.67 510.83 436.83 507.5 436C504.17 435.17 500.58 434.75 497.5 435C494.42 435.25 490.67 436.25 489 437.5C487.33 438.75 487.17 440.83 487.5 442.5C487.83 444.17 490.92 446 491 447.5C491.08 449 489.42 450.67 488 451.5C486.58 452.33 485.5 452.08 482.5 452.5C479.5 452.92 473.75 453.42 470 454C466.25 454.58 462.92 454.58 460 456C457.08 457.42 454.33 460.67 452.5 462.5C450.67 464.33 450.25 465.58 449 467C447.75 468.42 446.5 470.67 445 471C443.5 471.33 441.83 470 440 469C438.17 468 436.92 465.92 434 465C431.08 464.08 425.5 463.5 422.5 463.5C419.5 463.5 418.08 464.25 416 465C413.92 465.75 412.67 467 410 468C407.33 469 403.33 470.17 400 471C396.67 471.83 392.67 472.42 390 473C387.33 473.58 386.33 474.83 384 474.5C381.67 474.17 378.33 472.25 376 471C373.67 469.75 372.25 467.83 370 467C367.75 466.17 365.42 465.67 362.5 466C359.58 466.33 355.42 467.92 352.5 469C349.58 470.08 346.92 471 345 472.5C343.08 474 342.17 476.08 341 478C339.83 479.92 339.33 481.83 338 484C336.67 486.17 335.17 489.33 333 491C330.83 492.67 327.67 492.33 325 494C322.33 495.67 319.33 498.75 317 501C314.67 503.25 312.58 505.17 311 507.5C309.42 509.83 308.92 512.25 307.5 515C306.08 517.75 304.17 521.33 302.5 524C300.83 526.67 299.75 528.75 297.5 531C295.25 533.25 292.33 535.83 289 537.5C285.67 539.17 280.5 539.92 277.5 541C274.5 542.08 272.08 543.5 271 544L271 544L68 544L68 501.5Z" fill="rgb(160,206,0)"/>
<path d="M68 506C70 505.42 77 503.5 80 502.5C83 501.5 84.5 500.67 86 500C87.5 499.33 87.62 499.38 89 498.5C90.38 497.62 92.75 496.12 94.25 494.75C95.75 493.38 96.88 491.88 98 490.25C99.12 488.62 100.38 486.75 101 485C101.62 483.25 101.5 481.62 101.75 479.75C102 477.88 101.88 475.38 102.5 473.75C103.12 472.12 104 471.25 105.5 470C107 468.75 109.5 467.75 111.5 466.25C113.5 464.75 115.62 462.88 117.5 461C119.38 459.12 121.17 457.17 122.75 455C124.33 452.83 125.79 449.17 127 448C128.21 446.83 128.67 447 130 448C131.33 449 132.83 451.83 135 454C137.17 456.17 140.5 459 143 461C145.5 463 147.5 464.33 150 466C152.5 467.67 155.33 469.67 158 471C160.67 472.33 163.33 473.58 166 474C168.67 474.42 171.33 473.5 174 473.5C176.67 473.5 179.33 474 182 474C184.67 474 187.08 473.92 190 473.5C192.92 473.08 196.95 472.63 199.5 471.5C202.05 470.37 203.2 468.48 205.3 466.7C207.4 464.92 209.83 462.75 212.1 460.8C214.37 458.85 216.75 457.47 218.9 455C221.05 452.53 222.48 448.5 225 446C227.52 443.5 231.67 441.83 234 440C236.33 438.17 238.67 436.67 239 435C239.33 433.33 237.92 432.08 236 430C234.08 427.92 230.33 425 227.5 422.5C224.67 420 221.92 417.25 219 415C216.08 412.75 212 410.25 210 409C208 407.75 208.38 408.62 207 407.5C205.62 406.38 203.5 404 201.75 402.25C200 400.5 198 398.88 196.5 397C195 395.12 193.54 393 192.75 391C191.96 389 191.79 387.5 191.75 385C191.71 382.5 192.12 378.5 192.5 376C192.88 373.5 193.25 371.88 194 370C194.75 368.12 195.75 366.38 197 364.75C198.25 363.12 199.75 361.75 201.5 360.25C203.25 358.75 205.25 357.29 207.5 355.75C209.75 354.21 212.5 351.75 215 351C217.5 350.25 220 350.96 222.5 351.25C225 351.54 227.5 352.62 230 352.75C232.5 352.88 235 352.88 237.5 352C240 351.12 242.88 349.25 245 347.5C247.12 345.75 248.5 343.38 250.25 341.5C252 339.62 253.88 338 255.5 336.25C257.12 334.5 258.25 332.71 260 331C261.75 329.29 264 327.5 266 326C268 324.5 269.83 323.33 272 322C274.17 320.67 276.67 319.5 279 318C281.33 316.5 283.67 314.5 286 313C288.33 311.5 290.88 310.43 293 309C295.12 307.57 296.85 305.48 298.75 304.4C300.65 303.32 302.42 303.02 304.4 302.5C306.38 301.98 308.62 301.35 310.6 301.25C312.58 301.15 314.68 301.48 316.25 301.9C317.82 302.32 318.64 303.02 320 303.75C321.36 304.48 322.83 305.31 324.4 306.25C325.97 307.19 327.84 308.46 329.4 309.4C330.96 310.34 332.19 311.38 333.75 311.9C335.31 312.42 336.46 312.07 338.75 312.5C341.04 312.93 344.38 313.83 347.5 314.5C350.62 315.17 354.58 315.75 357.5 316.5C360.42 317.25 362.75 318 365 319C367.25 320 369.5 321 371 322.5C372.5 324 374 326.08 374 328C374 329.92 372.5 332 371 334C369.5 336 367 337.5 365 340C363 342.5 360.83 346.33 359 349C357.17 351.67 354.92 353.83 354 356C353.08 358.17 353.17 359.83 353.5 362C353.83 364.17 354.08 367 356 369C357.92 371 361.42 372.83 365 374C368.58 375.17 373.33 375.17 377.5 376C381.67 376.83 386.25 378.33 390 379C393.75 379.67 396.67 379.42 400 380C403.33 380.58 406.67 381.83 410 382.5C413.33 383.17 416.67 383.92 420 384C423.33 384.08 427.5 383.5 430 383C432.5 382.5 433.17 382.17 435 381C436.83 379.83 439.33 377.5 441 376C442.67 374.5 444.33 373.67 445 372C445.67 370.33 445.33 368 445 366C444.67 364 443.5 362.33 443 360C442.5 357.67 442.17 354.67 442 352C441.83 349.33 441.67 346.33 442 344C442.33 341.67 442.83 339.67 444 338C445.17 336.33 447.33 335.17 449 334C450.67 332.83 452 331.5 454 331C456 330.5 458.83 331.08 461 331C463.17 330.92 465.17 330.33 467 330.5C468.83 330.67 470.5 330.83 472 332C473.5 333.17 474.67 334.92 476 337.5C477.33 340.08 478.5 344.42 480 347.5C481.5 350.58 483.33 353.08 485 356C486.67 358.92 488.75 361.83 490 365C491.25 368.17 492.33 371.83 492.5 375C492.67 378.17 492.08 381.08 491 384C489.92 386.92 487 390 486 392.5C485 395 484.5 396.92 485 399C485.5 401.08 487.17 403.33 489 405C490.83 406.67 492.92 408.33 496 409C499.08 409.67 503.92 408.83 507.5 409C511.08 409.17 514.58 409.17 517.5 410C520.42 410.83 523.08 412.17 525 414C526.92 415.83 528 418.67 529 421C530 423.33 531.5 426.33 531 428C530.5 429.67 527.83 430.67 526 431C524.17 431.33 522.25 430.58 520 430C517.75 429.42 515.83 428.17 512.5 427.5C509.17 426.83 503.92 426.58 500 426C496.08 425.42 492.75 424 489 424C485.25 424 481.33 424.58 477.5 426C473.67 427.42 468.92 430.17 466 432.5C463.08 434.83 462.25 437.42 460 440C457.75 442.58 455 445.92 452.5 448C450 450.08 447.5 452.17 445 452.5C442.5 452.83 440 450.92 437.5 450C435 449.08 432.5 447.17 430 447C427.5 446.83 425.42 448.33 422.5 449C419.58 449.67 415.42 449.58 412.5 451C409.58 452.42 407.5 455.58 405 457.5C402.5 459.42 400.42 461.42 397.5 462.5C394.58 463.58 390.83 464.25 387.5 464C384.17 463.75 380.83 461.83 377.5 461C374.17 460.17 370.83 459.33 367.5 459C364.17 458.67 360.83 458.83 357.5 459C354.17 459.17 350.25 459.5 347.5 460C344.75 460.5 342.67 460.75 341 462C339.33 463.25 338.67 465.33 337.5 467.5C336.33 469.67 335.25 472.5 334 475C332.75 477.5 331.67 480 330 482.5C328.33 485 326.33 487.92 324 490C321.67 492.08 318.33 493.33 316 495C313.67 496.67 311.83 497.92 310 500C308.17 502.08 306.5 505 305 507.5C303.5 510 302 513.08 301 515C300 516.92 300 517.17 299 519C298 520.83 296.92 523.75 295 526C293.08 528.25 290.42 530.83 287.5 532.5C284.58 534.17 280.83 534.92 277.5 536C274.17 537.08 270.25 537.92 267.5 539C264.75 540.08 262.25 541.67 261 542.5C259.75 543.33 260.17 543.75 260 544L260 544L68 544L68 506Z" fill="rgb(208,184,0)"/>
<path d="M68 510.6C69.42 510.08 73.42 508.6 76.5 507.5C79.58 506.4 83.17 505.08 86.5 504C89.83 502.92 94.08 501.67 96.5 501C98.92 500.33 99.75 500.67 101 500C102.25 499.33 102.75 498.38 104 497C105.25 495.62 107.38 493.5 108.5 491.75C109.62 490 110.25 488.38 110.75 486.5C111.25 484.62 111.12 482.5 111.5 480.5C111.88 478.5 112 476.5 113 474.5C114 472.5 115.75 470.5 117.5 468.5C119.25 466.5 121.75 464 123.5 462.5C125.25 461 126.75 459.58 128 459.5C129.25 459.42 129.5 460.75 131 462C132.5 463.25 135 465.17 137 467C139 468.83 140.83 471 143 473C145.17 475 147.5 477.33 150 479C152.5 480.67 155.33 481.83 158 483C160.67 484.17 163.67 485.17 166 486C168.33 486.83 169.67 487.83 172 488C174.33 488.17 177.67 487.47 180 487C182.33 486.53 183.9 486 186 485.2C188.1 484.4 190.35 483.35 192.6 482.2C194.85 481.05 197.22 479.75 199.5 478.3C201.78 476.85 204.2 475.28 206.3 473.5C208.4 471.72 210 469.72 212.1 467.6C214.2 465.48 216.58 462.9 218.9 460.8C221.22 458.7 224.15 456.8 226 455C227.85 453.2 228.08 452.08 230 450C231.92 447.92 235 444.58 237.5 442.5C240 440.42 243.08 438.92 245 437.5C246.92 436.08 249.17 435.42 249 434C248.83 432.58 246.33 431.17 244 429C241.67 426.83 238.17 423.75 235 421C231.83 418.25 228.33 415.17 225 412.5C221.67 409.83 217.5 406.83 215 405C212.5 403.17 211.33 402.33 210 401.5C208.67 400.67 208.25 400.88 207 400C205.75 399.12 203.88 397.75 202.5 396.25C201.12 394.75 199.58 392.88 198.75 391C197.92 389.12 197.54 386.75 197.5 385C197.46 383.25 198.08 382.25 198.5 380.5C198.92 378.75 199.12 376.38 200 374.5C200.88 372.62 202.25 371 203.75 369.25C205.25 367.5 207.12 365.71 209 364C210.88 362.29 212.75 360.12 215 359C217.25 357.88 220 357.42 222.5 357.25C225 357.08 227.5 358.12 230 358C232.5 357.88 235.25 357.38 237.5 356.5C239.75 355.62 241.5 354.25 243.5 352.75C245.5 351.25 247.5 349.38 249.5 347.5C251.5 345.62 253.5 343.62 255.5 341.5C257.5 339.38 259.5 336.88 261.5 334.75C263.5 332.62 265.75 330.38 267.5 328.75C269.25 327.12 269.92 326.46 272 325C274.08 323.54 277 321.67 280 320C283 318.33 286.88 316.67 290 315C293.12 313.33 296.57 311.15 298.75 310C300.93 308.85 301.64 308.57 303.1 308.1C304.56 307.63 305.93 307.3 307.5 307.2C309.07 307.1 311.04 307.24 312.5 307.5C313.96 307.76 315 308.02 316.25 308.75C317.5 309.48 318.75 310.86 320 311.9C321.25 312.94 322.29 314.17 323.75 315C325.21 315.83 327.08 316.38 328.75 316.9C330.42 317.42 332.08 317.65 333.75 318.1C335.42 318.55 336.46 318.87 338.75 319.6C341.04 320.33 344.38 321.68 347.5 322.5C350.62 323.32 355 323.42 357.5 324.5C360 325.58 361.75 327.25 362.5 329C363.25 330.75 362.58 332.75 362 335C361.42 337.25 360.58 340 359 342.5C357.42 345 354.5 347.58 352.5 350C350.5 352.42 348.25 354.83 347 357C345.75 359.17 345.25 361 345 363C344.75 365 344.67 367 345.5 369C346.33 371 348 373.25 350 375C352 376.75 354.92 378.4 357.5 379.5C360.08 380.6 362.58 381.12 365.5 381.6C368.42 382.08 372.17 382.5 375 382.4C377.83 382.3 380 380.73 382.5 381C385 381.27 387.5 382.92 390 384C392.5 385.08 395 385.83 397.5 387.5C400 389.17 402.92 391.92 405 394C407.08 396.08 408.33 398.33 410 400C411.67 401.67 413.33 404.17 415 404C416.67 403.83 417.92 400.67 420 399C422.08 397.33 425 395.08 427.5 394C430 392.92 432.92 392.83 435 392.5C437.08 392.17 437.33 392 440 392C442.67 392 448.08 391.33 451 392.5C453.92 393.67 455 396.92 457.5 399C460 401.08 463.25 403.83 466 405C468.75 406.17 472 405.17 474 406C476 406.83 477.42 408.08 478 410C478.58 411.92 478.67 415.83 477.5 417.5C476.33 419.17 473.5 419.75 471 420C468.5 420.25 464.75 418.83 462.5 419C460.25 419.17 458.92 419.58 457.5 421C456.08 422.42 456.08 426 454 427.5C451.92 429 448 429.58 445 430C442 430.42 438.5 429.83 436 430C433.5 430.17 431.42 430.67 430 431C428.58 431.33 429.17 431.33 427.5 432C425.83 432.67 422.92 433.67 420 435C417.08 436.33 413.33 438.33 410 440C406.67 441.67 402.92 443.83 400 445C397.08 446.17 395.42 446.83 392.5 447C389.58 447.17 386.25 445.83 382.5 446C378.75 446.17 373.75 447.33 370 448C366.25 448.67 363.33 449.5 360 450C356.67 450.5 353.33 450.5 350 451C346.67 451.5 342.5 451.67 340 453C337.5 454.33 336.67 456.58 335 459C333.33 461.42 331.67 464.42 330 467.5C328.33 470.58 326.67 474.75 325 477.5C323.33 480.25 322.08 482.08 320 484C317.92 485.92 314.58 487.58 312.5 489C310.42 490.42 309.17 490.83 307.5 492.5C305.83 494.17 304.17 496.5 302.5 499C300.83 501.5 298.92 504.67 297.5 507.5C296.08 510.33 295.25 513.08 294 516C292.75 518.92 291.67 522.67 290 525C288.33 527.33 286.5 528.75 284 530C281.5 531.25 278.17 531.67 275 532.5C271.83 533.33 268.17 534.17 265 535C261.83 535.83 258.33 536.25 256 537.5C253.67 538.75 252 541.42 251 542.5C250 543.58 250.17 543.75 250 544L250 544L68 544L68 510.6Z" fill="rgb(205,115,0)"/>
<path d="M445 346C445 344.17 446.67 343.17 448 342C449.33 340.83 451 339.67 453 339C455 338.33 457.83 337.5 460 338C462.17 338.5 464.83 340.33 466 342C467.17 343.67 467.17 346 467 348C466.83 350 465.67 352.17 465 354C464.33 355.83 464 357.67 463 359C462 360.33 460.67 362 459 362C457.33 362 454.83 360.5 453 359C451.17 357.5 449.33 355.17 448 353C446.67 350.83 445 347.83 445 346Z" fill="rgb(205,115,0)"/>
<path d="M68 518C69.83 517.33 75.08 515.33 79 514C82.92 512.67 87.75 511.08 91.5 510C95.25 508.92 98.42 508.17 101.5 507.5C104.58 506.83 107.92 507.08 110 506C112.08 504.92 112.92 502.83 114 501C115.08 499.17 115.67 497.67 116.5 495C117.33 492.33 117.58 488 119 485C120.42 482 122.67 478.5 125 477C127.33 475.5 130.67 475.67 133 476C135.33 476.33 136.5 477.5 139 479C141.5 480.5 145.33 483.33 148 485C150.67 486.67 152.67 487.67 155 489C157.33 490.33 160.17 491.58 162 493C163.83 494.42 163.83 496.42 166 497.5C168.17 498.58 172.67 499.75 175 499.5C177.33 499.25 178.2 497.33 180 496C181.8 494.67 183.7 492.98 185.8 491.5C187.9 490.02 190.32 488.65 192.6 487.1C194.88 485.55 197.22 483.98 199.5 482.2C201.78 480.42 204.2 478.18 206.3 476.4C208.4 474.62 210 473.28 212.1 471.5C214.2 469.72 216.47 467.63 218.9 465.7C221.33 463.77 224.1 461.68 226.7 459.9C229.3 458.12 232.28 456.48 234.5 455C236.72 453.52 238.08 452.33 240 451C241.92 449.67 244.33 448.17 246 447C247.67 445.83 248.67 445.58 250 444C251.33 442.42 253.17 439.83 254 437.5C254.83 435.17 255.83 432.08 255 430C254.17 427.92 251.33 426.83 249 425C246.67 423.17 243.75 421.33 241 419C238.25 416.67 235.17 413.33 232.5 411C229.83 408.67 227.12 406.5 225 405C222.88 403.5 221.5 403.25 219.75 402C218 400.75 216.12 399.08 214.5 397.5C212.88 395.92 211.25 393.83 210 392.5C208.75 391.17 207.9 390.75 207 389.5C206.1 388.25 204.93 386.42 204.6 385C204.27 383.58 204.52 382.38 205 381C205.48 379.62 206.58 378.21 207.5 376.75C208.42 375.29 209.25 373.71 210.5 372.25C211.75 370.79 213 369.38 215 368C217 366.62 220 364.79 222.5 364C225 363.21 227.5 363.88 230 363.25C232.5 362.62 235 361.5 237.5 360.25C240 359 242.75 357.25 245 355.75C247.25 354.25 249 352.88 251 351.25C253 349.62 255 347.88 257 346C259 344.12 261 342 263 340C265 338 267 335.75 269 334C271 332.25 273 330.92 275 329.5C277 328.08 278.5 327.08 281 325.5C283.5 323.92 286.83 321.33 290 320C293.17 318.67 296.83 317.92 300 317.5C303.17 317.08 305.83 317.08 309 317.5C312.17 317.92 315.67 318.75 319 320C322.33 321.25 325.92 323.5 329 325C332.08 326.5 334.83 328 337.5 329C340.17 330 342.92 329.83 345 331C347.08 332.17 348.75 334.5 350 336C351.25 337.5 352.33 338.67 352.5 340C352.67 341.33 352.08 342.5 351 344C349.92 345.5 347.83 347.58 346 349C344.17 350.42 341.67 350.83 340 352.5C338.33 354.17 337 356.92 336 359C335 361.08 334.58 363.58 334 365C333.42 366.42 333.17 365.67 332.5 367.5C331.83 369.33 330 373.25 330 376C330 378.75 331 381.75 332.5 384C334 386.25 336.75 388 339 389.5C341.25 391 343.88 391.58 346 393C348.12 394.42 349.8 396.93 351.7 398C353.6 399.07 355.1 399.17 357.4 399.4C359.7 399.63 363.88 398.58 365.5 399.4C367.12 400.22 366.97 402.13 367.1 404.3C367.23 406.47 366.57 409.7 366.3 412.4C366.03 415.1 365.72 418.4 365.5 420.5C365.28 422.6 365.25 423.25 365 425C364.75 426.75 364.67 429.17 364 431C363.33 432.83 362.5 434.33 361 436C359.5 437.67 357.25 439.67 355 441C352.75 442.33 350 443.33 347.5 444C345 444.67 342.08 444.5 340 445C337.92 445.5 336.67 445.75 335 447C333.33 448.25 331.67 450.17 330 452.5C328.33 454.83 326.5 457.92 325 461C323.5 464.08 322.5 468 321 471C319.5 474 318 476.67 316 479C314 481.33 311.25 483.17 309 485C306.75 486.83 304.42 487.92 302.5 490C300.58 492.08 299.17 494.83 297.5 497.5C295.83 500.17 293.92 503.08 292.5 506C291.08 508.92 290.08 512.25 289 515C287.92 517.75 287.5 520.42 286 522.5C284.5 524.58 282.67 526.25 280 527.5C277.33 528.75 273.33 529.17 270 530C266.67 530.83 263.33 531.42 260 532.5C256.67 533.58 252.42 535.25 250 536.5C247.58 537.75 247 538.75 245.5 540C244 541.25 241.75 543.33 241 544L241 544L68 544L68 518Z" fill="rgb(200,52,0)"/>
<path d="M430 412C430.25 410.92 430.83 410.13 432 409.5C433.17 408.87 435.25 408.45 437 408.2C438.75 407.95 441.17 407.62 442.5 408C443.83 408.38 444.67 409.33 445 410.5C445.33 411.67 445.33 413.75 444.5 415C443.67 416.25 441.75 417.5 440 418C438.25 418.5 435.58 418.33 434 418C432.42 417.67 431.17 417 430.5 416C429.83 415 429.75 413.08 430 412Z" fill="rgb(200,52,0)"/>
<path d="M68 527.5C69.42 526.67 73 524.17 76.5 522.5C80 520.83 84.83 518.58 89 517.5C93.17 516.42 97.75 516.58 101.5 516C105.25 515.42 108.58 515.17 111.5 514C114.42 512.83 117.08 511.17 119 509C120.92 506.83 122 503.83 123 501C124 498.17 124.17 493.83 125 492C125.83 490.17 126.67 489.58 128 490C129.33 490.42 131.42 492.42 133 494.5C134.58 496.58 135.5 499.92 137.5 502.5C139.5 505.08 142.5 508.25 145 510C147.5 511.75 149.5 512.38 152.5 513C155.5 513.62 159.5 514 163 513.75C166.5 513.5 170.67 512.69 173.5 511.5C176.33 510.31 177.95 507.75 180 506.6C182.05 505.45 183.85 505.25 185.8 504.6C187.75 503.95 189.75 503.35 191.7 502.7C193.65 502.05 195.72 501.52 197.5 500.7C199.28 499.88 201.27 498.93 202.4 497.8C203.53 496.67 203.5 495.2 204.3 493.9C205.1 492.6 206.22 491.13 207.2 490C208.18 488.87 209.22 488.07 210.2 487.1C211.18 486.13 212.13 485.33 213.1 484.2C214.07 483.07 215.03 481.6 216 480.3C216.97 479 217.93 477.53 218.9 476.4C219.87 475.27 220.67 474.63 221.8 473.5C222.93 472.37 223.92 471.07 225.7 469.6C227.48 468.13 230.12 466.17 232.5 464.7C234.88 463.23 237.92 462.25 240 460.8C242.08 459.35 242.92 457.8 245 456C247.08 454.2 250.42 452.25 252.5 450C254.58 447.75 256.08 444.83 257.5 442.5C258.92 440.17 259.75 438.25 261 436C262.25 433.75 264.33 431.25 265 429C265.67 426.75 265.67 424.33 265 422.5C264.33 420.67 262.67 418.42 261 418C259.33 417.58 257.25 419.83 255 420C252.75 420.17 249.83 420.5 247.5 419C245.17 417.5 243.25 413.33 241 411C238.75 408.67 235.67 406.5 234 405C232.33 403.5 232.25 403.38 231 402C229.75 400.62 228 398.5 226.5 396.75C225 395 223.38 393.38 222 391.5C220.62 389.62 219 387.25 218.25 385.5C217.5 383.75 216.62 382.62 217.5 381C218.38 379.38 221 377.12 223.5 375.75C226 374.38 229.75 374 232.5 372.75C235.25 371.5 238.42 369.71 240 368.25C241.58 366.79 240.92 365.46 242 364C243.08 362.54 244.75 361.12 246.5 359.5C248.25 357.88 250.5 356 252.5 354.25C254.5 352.5 256.5 350.75 258.5 349C260.5 347.25 262.5 345.25 264.5 343.75C266.5 342.25 268.75 340.79 270.5 340C272.25 339.21 272.58 340.5 275 339C277.42 337.5 282.08 332.92 285 331C287.92 329.08 290.42 327.25 292.5 327.5C294.58 327.75 297.08 330.42 297.5 332.5C297.92 334.58 295.75 337.75 295 340C294.25 342.25 293.33 343.5 293 346C292.67 348.5 292.83 352.5 293 355C293.17 357.5 293.25 359.17 294 361C294.75 362.83 295.83 364.08 297.5 366C299.17 367.92 302.08 370.17 304 372.5C305.92 374.83 307.17 377.75 309 380C310.83 382.25 313 383.92 315 386C317 388.08 319.33 390.33 321 392.5C322.67 394.67 323.33 397.33 325 399C326.67 400.67 329 401.42 331 402.5C333 403.58 335.3 404.65 337 405.5C338.7 406.35 339.55 406.72 341.2 407.6C342.85 408.48 345.27 409.73 346.9 410.8C348.53 411.87 350.05 412.8 351 414C351.95 415.2 352.3 416.17 352.6 418C352.9 419.83 353.23 422.58 352.8 425C352.37 427.42 351.3 430.67 350 432.5C348.7 434.33 346.67 435.17 345 436C343.33 436.83 342.08 436.83 340 437.5C337.92 438.17 334.58 438.58 332.5 440C330.42 441.42 328.92 443.92 327.5 446C326.08 448.08 325.25 450 324 452.5C322.75 455 321.33 458.08 320 461C318.67 463.92 317.67 467.5 316 470C314.33 472.5 312.25 474.17 310 476C307.75 477.83 304.83 479.08 302.5 481C300.17 482.92 297.92 485.17 296 487.5C294.08 489.83 292.67 492.5 291 495C289.33 497.5 287.42 500 286 502.5C284.58 505 283.33 507.92 282.5 510C281.67 512.08 281.58 513.5 281 515C280.42 516.5 280.17 517.5 279 519C277.83 520.5 276.33 522.58 274 524C271.67 525.42 268.17 526.67 265 527.5C261.83 528.33 257.92 528.58 255 529C252.08 529.42 249.67 529.5 247.5 530C245.33 530.5 244.08 530.83 242 532C239.92 533.17 237.42 535 235 537C232.58 539 228.75 542.83 227.5 544L227.5 544L68 544L68 527.5Z" fill="rgb(192,0,0)"/>
<path d="M129 544 Q133 539 138 544Z" fill="rgb(200,52,0)"/>
</g>
<path d="M305.9 123.2C306.17 123.71 306.82 125.33 307.5 126.25C308.18 127.17 309.17 127.92 310 128.75C310.83 129.58 312.29 130.42 312.5 131.25C312.71 132.08 311.52 132.83 311.25 133.75C310.98 134.67 311.4 135.81 310.9 136.75C310.4 137.69 308.94 138.78 308.25 139.4C307.56 140.03 306.62 139.82 306.75 140.5C306.88 141.18 308.31 142.38 309 143.5C309.69 144.62 310.52 145.88 310.9 147.25C311.27 148.62 311.44 150.12 311.25 151.75C311.06 153.38 310.21 155.46 309.75 157C309.29 158.54 308.79 159.75 308.5 161C308.21 162.25 308.21 163.04 308 164.5C307.79 165.96 307.62 168.25 307.25 169.75C306.88 171.25 306.5 172.38 305.75 173.5C305 174.62 303.75 175.5 302.75 176.5C301.75 177.5 300.38 178.62 299.75 179.5C299.12 180.38 298.88 181 299 181.75C299.12 182.5 300.38 183.12 300.5 184C300.62 184.88 300.38 186.18 299.75 187C299.12 187.82 297.62 188.28 296.75 188.9C295.88 189.53 295.38 189.94 294.5 190.75C293.62 191.56 292.5 193 291.5 193.75C290.5 194.5 289.27 194.71 288.5 195.25C287.73 195.79 287.27 196.5 286.9 197C286.52 197.5 286.36 197.54 286.25 198.25C286.14 198.96 286.29 200.62 286.25 201.25C286.21 201.88 286.19 201.58 286 202C285.81 202.42 284.81 202.88 285.1 203.75C285.39 204.62 286.87 206.22 287.75 207.25C288.63 208.28 290.11 209.03 290.4 209.9C290.69 210.78 290.08 211.63 289.5 212.5C288.92 213.37 287.63 214.22 286.9 215.1C286.17 215.97 285.54 216.58 285.1 217.75C284.66 218.92 284.25 220.79 284.25 222.1C284.25 223.41 284.81 224.28 285.1 225.6C285.39 226.92 286 228.68 286 230C286 231.32 285.53 232.33 285.1 233.5C284.67 234.67 284.12 235.98 283.4 237C282.67 238.02 281.63 238.87 280.75 239.6C279.87 240.33 278.83 240.67 278.1 241.4C277.38 242.13 276.62 243.11 276.4 244C276.17 244.89 276.32 245.79 276.75 246.75C277.18 247.71 278.44 248.75 279 249.75C279.56 250.75 279.98 251.5 280.1 252.75C280.23 254 279.93 255.88 279.75 257.25C279.57 258.62 279 259.75 279 261C279 262.25 280 263.5 279.75 264.75C279.5 266 278.5 267.5 277.5 268.5C276.5 269.5 275 270.07 273.75 270.75C272.5 271.43 271.25 272.1 270 272.6C268.75 273.1 267.5 273.68 266.25 273.75C265 273.82 263.88 273.38 262.5 273C261.12 272.62 259.5 272.12 258 271.5C256.5 270.88 254.75 269.82 253.5 269.25C252.25 268.68 251.17 268.34 250.5 268.1C249.83 267.86 249.67 267.85 249.5 267.8" stroke="#a8a8a8" stroke-width="1.6" fill="none" stroke-linejoin="round" stroke-linecap="round"/>
<path d="M273.75 270.75C274.25 271 275.88 271.62 276.75 272.25C277.62 272.88 278.5 273.62 279 274.5C279.5 275.38 279.38 276.62 279.75 277.5C280.12 278.38 280.5 279.25 281.25 279.75C282 280.25 283.38 280.21 284.25 280.5C285.12 280.79 285.62 280.83 286.5 281.5C287.38 282.17 288.5 283.5 289.5 284.5C290.5 285.5 291.58 286.92 292.5 287.5C293.42 288.08 294.58 287.92 295 288" stroke="#a8a8a8" stroke-width="1.6" fill="none" stroke-linejoin="round" stroke-linecap="round"/>
<path d="M353.9 130.75C353.71 130.88 353.19 131 352.75 131.5C352.31 132 351.31 132.88 351.25 133.75C351.19 134.62 352.27 135.62 352.4 136.75C352.52 137.88 351.57 139.19 352 140.5C352.43 141.81 353.62 144.22 355 144.6C356.38 144.97 358.38 143.43 360.25 142.75C362.12 142.07 364.5 141.25 366.25 140.5C368 139.75 369.69 139.25 370.75 138.25C371.81 137.25 372.29 135.38 372.6 134.5C372.91 133.62 372.6 133.25 372.6 133" stroke="#a8a8a8" stroke-width="1.6" fill="none" stroke-linejoin="round" stroke-linecap="round"/>
<path d="M370.75 138.25C371.5 138.5 374 139.25 375.25 139.75C376.5 140.25 377.38 140.62 378.25 141.25C379.12 141.88 379.5 142.88 380.5 143.5C381.5 144.12 383.38 144.12 384.25 145C385.12 145.88 385 147.75 385.75 148.75C386.5 149.75 387.62 151 388.75 151C389.88 151 391.46 149.57 392.5 148.75C393.54 147.93 393.71 146.76 395 146.1C396.29 145.44 398.21 144.8 400.25 144.8C402.29 144.8 405.21 145.44 407.25 146.1C409.29 146.76 410.89 147.65 412.5 148.75C414.11 149.85 415.15 152.26 416.9 152.7C418.65 153.14 421.4 151.77 423 151.4C424.6 151.03 425.62 151.08 426.5 150.5C427.38 149.92 427.38 148.63 428.25 147.9C429.12 147.17 430.58 146.25 431.75 146.1C432.92 145.95 433.94 147.28 435.25 147C436.56 146.72 438.14 144.92 439.6 144.4C441.06 143.88 442.4 143.76 444 143.9C445.6 144.04 447.45 144.73 449.2 145.25C450.95 145.77 453.62 146.71 454.5 147" stroke="#a8a8a8" stroke-width="1.6" fill="none" stroke-linejoin="round" stroke-linecap="round"/>
<path d="M201 416C200.67 417.92 199.58 424.5 199 427.5C198.42 430.5 198.17 432.08 197.5 434C196.83 435.92 195.75 437.58 195 439C194.25 440.42 193 441.33 193 442.5C193 443.67 194 444.92 195 446C196 447.08 198.33 448.5 199 449" stroke="#a8a8a8" stroke-width="1.6" fill="none" stroke-linejoin="round" stroke-linecap="round"/>
<path d="M492.5 73C492.25 73.5 492.25 74.42 491 76C489.75 77.58 487.67 80.58 485 82.5C482.33 84.42 478.33 86.08 475 87.5C471.67 88.92 467.92 89.33 465 91C462.08 92.67 459.54 95.17 457.5 97.5C455.46 99.83 453.98 103.02 452.75 105C451.52 106.98 450.83 108.17 450.1 109.4C449.38 110.63 448.55 111.38 448.4 112.4C448.25 113.42 449.07 114.62 449.2 115.5C449.33 116.38 449.63 117.12 449.2 117.7C448.77 118.28 447.18 118.35 446.6 119C446.03 119.65 445.6 120.72 445.75 121.6C445.9 122.47 446.93 123.37 447.5 124.25C448.07 125.13 448.77 125.88 449.2 126.9C449.63 127.93 450.1 129.23 450.1 130.4C450.1 131.57 449.57 132.88 449.2 133.9C448.83 134.92 447.9 135.48 447.9 136.5C447.9 137.52 448.39 138.83 449.2 140C450.01 141.17 451.7 142.33 452.75 143.5C453.8 144.67 454.88 145.75 455.5 147C456.12 148.25 456.25 149.67 456.5 151C456.75 152.33 456.52 153.95 457 155C457.48 156.05 458.38 156.62 459.4 157.3C460.42 157.98 462.18 158.28 463.1 159.1C464.02 159.92 465.1 161.38 464.9 162.2C464.7 163.02 463.22 163.7 461.9 164C460.58 164.3 458.42 163.6 457 164C455.58 164.4 454.1 165.38 453.4 166.4C452.7 167.42 452.4 168.88 452.8 170.1C453.2 171.32 454.9 172.7 455.8 173.7C456.7 174.7 457.8 174.98 458.2 176.1C458.6 177.22 458 178.87 458.2 180.4C458.4 181.93 459.4 183.88 459.4 185.3C459.4 186.72 459 187.78 458.2 188.9C457.4 190.02 456.02 190.88 454.6 192C453.18 193.12 451.33 194.4 449.7 195.6C448.07 196.8 446.42 198.08 444.8 199.2C443.18 200.32 441.82 201.38 440 202.3C438.18 203.22 435.93 203.79 433.9 204.7C431.87 205.61 429.62 206.73 427.8 207.75C425.98 208.77 424.42 209.99 423 210.8C421.58 211.61 420.32 212.2 419.3 212.6C418.28 213 417.92 212.69 416.9 213.2C415.88 213.71 414.42 215.03 413.2 215.65C411.98 216.27 410.6 216.49 409.6 216.9C408.6 217.31 408.02 217.6 407.2 218.1C406.38 218.6 405.52 219.5 404.7 219.9C403.88 220.3 403.02 220.05 402.3 220.5C401.58 220.95 401.4 221.33 400.4 222.6C399.4 223.87 397.67 226.38 396.3 228.1C394.93 229.82 393.58 231.75 392.2 232.9C390.82 234.05 390.07 234.43 388 235C385.93 235.57 382.55 235.85 379.8 236.3C377.05 236.75 373.8 237.12 371.5 237.7C369.2 238.28 368.28 239.23 366 239.8C363.72 240.37 360.32 240.77 357.8 241.1C355.28 241.43 352.73 241.33 350.9 241.8C349.07 242.27 348.4 243.32 346.8 243.9C345.2 244.48 342.92 244.85 341.3 245.3C339.68 245.75 338.25 245.92 337.1 246.6C335.95 247.28 335.77 248.82 334.4 249.4C333.03 249.98 330.73 249.75 328.9 250.1C327.07 250.45 325 250.93 323.4 251.5C321.8 252.07 320.68 252.58 319.3 253.5C317.92 254.42 316.13 255.73 315.1 257C314.07 258.27 314.02 259.97 313.1 261.1C312.18 262.23 310.63 262.88 309.6 263.8C308.57 264.72 307.5 265.78 306.9 266.6C306.3 267.43 305.77 268.14 306 268.75C306.23 269.36 307.38 269.88 308.25 270.25C309.12 270.62 310.25 270.5 311.25 271C312.25 271.5 313.46 272.5 314.25 273.25C315.04 274 315.71 274.75 316 275.5C316.29 276.25 316.42 277.12 316 277.75C315.58 278.38 314.42 278.88 313.5 279.25C312.58 279.62 311.38 279.62 310.5 280C309.62 280.38 309 280.88 308.25 281.5C307.5 282.12 306.75 283 306 283.75C305.25 284.5 304.5 285.62 303.75 286C303 286.38 302 286.25 301.5 286C301 285.75 300.62 285.12 300.75 284.5C300.88 283.88 301.75 282.75 302.25 282.25C302.75 281.75 303.75 281.75 303.75 281.5C303.75 281.25 302.88 280.75 302.25 280.75C301.62 280.75 300.75 281.12 300 281.5C299.25 281.88 298.38 282.25 297.75 283C297.12 283.75 296.75 285 296.25 286C295.75 287 295.38 287.75 294.75 289C294.12 290.25 293.29 292.33 292.5 293.5C291.71 294.67 291.25 294.5 290 296C288.75 297.5 286.67 300.33 285 302.5C283.33 304.67 281.67 306.92 280 309C278.33 311.08 276 313.33 275 315C274 316.67 274.83 317.75 274 319C273.17 320.25 271.5 321.33 270 322.5C268.5 323.67 266.5 324.58 265 326C263.5 327.42 262.5 329.08 261 331C259.5 332.92 257.42 335.33 256 337.5C254.58 339.67 253.5 341.92 252.5 344C251.5 346.08 251 348 250 350C249 352 247.58 353.75 246.5 356C245.42 358.25 244 361 243.5 363.5C243 366 243.25 368.25 243.5 371C243.75 373.75 244.08 377.5 245 380C245.92 382.5 248.17 383.5 249 386C249.83 388.5 249.17 392.5 250 395C250.83 397.5 252.75 399.33 254 401C255.25 402.67 255.67 403.5 257.5 405C259.33 406.5 262.5 408.75 265 410C267.5 411.25 270.67 411.5 272.5 412.5C274.33 413.5 275.75 414.75 276 416C276.25 417.25 275.17 418.67 274 420C272.83 421.33 270.5 423 269 424C267.5 425 266.5 425 265 426C263.5 427 261.67 428.83 260 430C258.33 431.17 256.67 432.33 255 433C253.33 433.67 251.67 433.5 250 434C248.33 434.5 246.67 435 245 436C243.33 437 241.5 438.5 240 440C238.5 441.5 237 443.75 236 445C235 446.25 234.83 446.67 234 447.5C233.17 448.33 231.57 448.75 231 450C230.43 451.25 231 453.85 230.6 455C230.2 456.15 229.58 456.25 228.6 456.9C227.62 457.55 225.83 457.92 224.7 458.9C223.57 459.88 222.28 461.35 221.8 462.8C221.32 464.25 221.63 465.98 221.8 467.6C221.97 469.22 222.95 471.03 222.8 472.5C222.65 473.97 221.87 475.1 220.9 476.4C219.93 477.7 217.65 479 217 480.3C216.35 481.6 217.33 483.07 217 484.2C216.67 485.33 215.82 486.13 215 487.1C214.18 488.07 212.75 488.87 212.1 490C211.45 491.13 210.93 492.77 211.1 493.9C211.27 495.03 212.12 495.98 213.1 496.8C214.08 497.62 216.03 498.15 217 498.8C217.97 499.45 219.07 500.22 218.9 500.7C218.73 501.18 217.13 501.37 216 501.7C214.87 502.03 213.57 502.38 212.1 502.7C210.63 503.02 208.67 503.6 207.2 503.6C205.73 503.6 204.58 502.85 203.3 502.7C202.02 502.55 200.78 502.55 199.5 502.7C198.22 502.85 196.75 503.2 195.6 503.6C194.45 504 193.73 505.1 192.6 505.1C191.47 505.1 190.08 503.85 188.8 503.6C187.52 503.35 186.37 503.35 184.9 503.6C183.43 503.85 181.4 504.78 180 505.1C178.6 505.42 177.58 504.68 176.5 505.5C175.42 506.32 174.75 508.62 173.5 510C172.25 511.38 171 512.5 169 513.75C167 515 163.75 515.62 161.5 517.5C159.25 519.38 157.25 522.75 155.5 525C153.75 527.25 152 529 151 531C150 533 149.88 534.83 149.5 537C149.12 539.17 148.88 542.83 148.75 544" stroke="#111" stroke-width="1.7" fill="none" stroke-linejoin="round" stroke-linecap="round"/>
<path d="M512.5 73C513.33 73.42 514.58 75 517.5 75.5C520.42 76 526.67 75.42 530 76C533.33 76.58 535.17 77.67 537.5 79C539.83 80.33 541.5 83.33 544 84C546.5 84.67 549.83 83.75 552.5 83C555.17 82.25 557.75 79.92 560 79.5C562.25 79.08 564.17 79.67 566 80.5C567.83 81.33 568.25 83.92 571 84.5C573.75 85.08 579.83 83.83 582.5 84C585.17 84.17 586.42 84.5 587 85.5C587.58 86.5 585.67 88.75 586 90C586.33 91.25 587.08 92.25 589 93C590.92 93.75 594.42 93.5 597.5 94.5C600.58 95.5 604.42 97.33 607.5 99C610.58 100.67 613.5 103.92 616 104.5C618.5 105.08 620.33 102.58 622.5 102.5C624.67 102.42 627.08 103.42 629 104C630.92 104.58 632.58 106.33 634 106C635.42 105.67 636 102.92 637.5 102C639 101.08 642.08 100.75 643 100.5" stroke="#111" stroke-width="1.7" fill="none" stroke-linejoin="round" stroke-linecap="round"/>
<path d="M187.6 108.6C189 108.83 193.93 109.33 196 110C198.07 110.67 198.33 111.93 200 112.6C201.67 113.27 204 113.77 206 114C208 114.23 210.27 114.33 212 114C213.73 113.67 215.07 111.83 216.4 112C217.73 112.17 219.07 114 220 115C220.93 116 220.67 116.83 222 118C223.33 119.17 226.27 121 228 122C229.73 123 231.4 124.17 232.4 124C233.4 123.83 233.07 121.43 234 121C234.93 120.57 236.33 121.67 238 121.4C239.67 121.13 242.17 119.8 244 119.4C245.83 119 247.67 118.73 249 119C250.33 119.27 250.67 120.67 252 121C253.33 121.33 255.67 120.5 257 121C258.33 121.5 258.83 122.9 260 124C261.17 125.1 262.67 127.18 264 127.6C265.33 128.02 267 126.72 268 126.5C269 126.28 269.04 126.23 270 126.25C270.96 126.27 272.75 127.04 273.75 126.6C274.75 126.16 275 123.97 276 123.6C277 123.23 278.5 124.02 279.75 124.4C281 124.78 282.5 125.97 283.5 125.9C284.5 125.83 285 124.69 285.75 124C286.5 123.31 287.25 121.88 288 121.75C288.75 121.62 289.5 122.88 290.25 123.25C291 123.62 291.5 124.06 292.5 124C293.5 123.94 295 123.1 296.25 122.9C297.5 122.7 298.75 122.66 300 122.8C301.25 122.94 302.77 123.75 303.75 123.75C304.73 123.75 305.54 123.63 305.9 122.8C306.26 121.97 305.9 120.26 305.9 118.75C305.9 117.24 305.73 115 305.9 113.75C306.07 112.5 306.32 111.88 306.9 111.25C307.48 110.62 308.47 110.06 309.4 110C310.33 109.94 311.36 110.38 312.5 110.9C313.64 111.42 315 112.37 316.25 113.1C317.5 113.83 318.75 114.77 320 115.3C321.25 115.83 322.4 116.2 323.75 116.25C325.1 116.3 326.74 115.49 328.1 115.6C329.46 115.71 330.92 116.27 331.9 116.9C332.88 117.53 333.38 118.57 334 119.4C334.62 120.23 334.6 121.48 335.6 121.9C336.6 122.32 338.33 121.9 340 121.9C341.67 121.9 344.14 121.7 345.6 121.9C347.06 122.1 347.93 122.58 348.75 123.1C349.57 123.62 349.96 124.22 350.5 125C351.04 125.78 351.43 126.79 352 127.75C352.57 128.71 353.47 130.81 353.9 130.75C354.33 130.69 354.04 128.15 354.6 127.4C355.16 126.65 356.06 126.19 357.25 126.25C358.44 126.31 360.12 127.31 361.75 127.75C363.38 128.19 365.5 128.46 367 128.9C368.5 129.34 369.82 129.72 370.75 130.4C371.68 131.08 371.48 132.75 372.6 133C373.73 133.25 375.81 132.4 377.5 131.9C379.19 131.4 381.25 130.82 382.75 130C384.25 129.18 385.38 127.62 386.5 127C387.62 126.38 388.25 126.12 389.5 126.25C390.75 126.38 392.5 127.46 394 127.75C395.5 128.04 397.32 128.51 398.5 128C399.68 127.49 400.08 125.47 401.1 124.7C402.12 123.93 403.43 123.92 404.6 123.4C405.77 122.88 407.52 122.77 408.1 121.6C408.68 120.43 408.17 117.71 408.1 116.4C408.03 115.09 406.97 114.42 407.7 113.75C408.43 113.08 410.53 112.54 412.5 112.4C414.47 112.26 417.32 112.68 419.5 112.9C421.68 113.12 423.56 113.61 425.6 113.75C427.64 113.89 430.43 114.33 431.75 113.75C433.07 113.17 432.77 111.19 433.5 110.25C434.23 109.31 434.93 108.46 436.1 108.1C437.27 107.74 439.18 107.82 440.5 108.1C441.82 108.38 442.77 109.15 444 109.8C445.23 110.45 447.17 111.57 447.9 112C448.63 112.43 448.32 112.33 448.4 112.4" stroke="#111" stroke-width="1.7" fill="none" stroke-linejoin="round" stroke-linecap="round"/>
<path d="M292.5 124C292.38 124.62 292 126.5 291.75 127.75C291.5 129 291 130 291 131.5C291 133 291.38 135.25 291.75 136.75C292.12 138.25 292.5 139.62 293.25 140.5C294 141.38 295.62 141.43 296.25 142C296.88 142.57 297.25 143.33 297 143.9C296.75 144.47 295.38 144.72 294.75 145.4C294.12 146.08 293.75 147.07 293.25 148C292.75 148.93 291.75 150.18 291.75 151C291.75 151.82 293.31 152.28 293.25 152.9C293.19 153.53 291.65 153.82 291.4 154.75C291.15 155.68 291.55 157.46 291.75 158.5C291.95 159.54 292.39 160.25 292.6 161C292.81 161.75 293.18 162.42 293 163C292.82 163.58 292.25 164.12 291.5 164.5C290.75 164.88 289.38 164.82 288.5 165.25C287.62 165.68 286.68 166.35 286.25 167.1C285.82 167.85 286.27 168.93 285.9 169.75C285.52 170.57 284.5 171.12 284 172C283.5 172.88 283.27 174 282.9 175C282.52 176 282.07 177.25 281.75 178C281.43 178.75 281 178.88 281 179.5C281 180.12 281.57 180.88 281.75 181.75C281.93 182.62 281.85 183.75 282.1 184.75C282.35 185.75 282.81 186.75 283.25 187.75C283.69 188.75 284.31 189.88 284.75 190.75C285.19 191.62 285.77 192.25 285.9 193C286.02 193.75 285.88 194.75 285.5 195.25C285.12 195.75 284.1 195.69 283.6 196C283.1 196.31 282.43 196.6 282.5 197.1C282.57 197.6 283.88 198.37 284 199C284.12 199.63 283.75 200.47 283.25 200.9C282.75 201.33 281.56 201.42 281 201.6C280.44 201.78 280.52 201.64 279.9 202C279.27 202.36 277.83 203.25 277.25 203.75C276.67 204.25 276.26 204.49 276.4 205C276.54 205.51 277.96 206.22 278.1 206.8C278.24 207.38 277.83 207.92 277.25 208.5C276.67 209.08 275.48 209.85 274.6 210.3C273.73 210.75 272.73 211.05 272 211.2C271.27 211.35 270.4 210.98 270.25 211.2C270.1 211.42 270.66 211.99 271.1 212.5C271.54 213.01 272.68 213.52 272.9 214.25C273.12 214.98 272.84 216.18 272.4 216.9C271.96 217.62 271.19 218.53 270.25 218.6C269.31 218.67 267.77 217.37 266.75 217.3C265.73 217.23 264.68 217.68 264.1 218.2C263.52 218.72 263.32 219.6 263.25 220.4C263.18 221.2 263.26 222.28 263.7 223C264.14 223.72 264.95 224.38 265.9 224.75C266.85 225.12 268.53 224.82 269.4 225.2C270.27 225.57 271.1 226.35 271.1 227C271.1 227.65 269.83 228.31 269.4 229.1C268.97 229.89 268.5 230.72 268.5 231.75C268.5 232.78 269.4 234.22 269.4 235.25C269.4 236.28 269.08 237.18 268.5 237.9C267.92 238.62 266.77 238.88 265.9 239.6C265.02 240.32 263.92 241.52 263.25 242.25C262.58 242.98 261.9 243.5 261.9 244C261.9 244.5 262.72 244.54 263.25 245.25C263.78 245.96 264.85 247.25 265.1 248.25C265.35 249.25 265.18 250.25 264.75 251.25C264.32 252.25 263.38 253.5 262.5 254.25C261.62 255 260.5 255.62 259.5 255.75C258.5 255.88 257.38 254.88 256.5 255C255.62 255.12 254.68 255.93 254.25 256.5C253.82 257.07 254.28 257.83 253.9 258.4C253.53 258.97 252.82 259.59 252 259.9C251.18 260.21 249.88 260.25 249 260.25C248.12 260.25 247.25 259.77 246.75 259.9C246.25 260.02 245.75 260.57 246 261C246.25 261.43 247.75 262 248.25 262.5C248.75 263 249.12 263.5 249 264C248.88 264.5 247.62 265 247.5 265.5C247.38 266 247.88 266.5 248.25 267C248.62 267.5 249.5 267.88 249.75 268.5C250 269.12 249.88 270 249.75 270.75C249.62 271.5 249.5 272.38 249 273C248.5 273.62 247.5 274 246.75 274.5C246 275 245.25 275.88 244.5 276C243.75 276.12 243 275.25 242.25 275.25C241.5 275.25 240.5 275.5 240 276C239.5 276.5 239.25 277.57 239.25 278.25C239.25 278.93 239.5 279.54 240 280.1C240.5 280.66 241.57 281.16 242.25 281.6C242.93 282.04 243.72 282.18 244.1 282.75C244.47 283.32 244.43 284.12 244.5 285C244.57 285.88 244.42 287.17 244.5 288C244.58 288.83 245.42 289.17 245 290C244.58 290.83 242.25 291.75 242 293C241.75 294.25 244 296 243.5 297.5C243 299 240.25 300.5 239 302C237.75 303.5 237.5 305.5 236 306.5C234.5 307.5 231.5 307 230 308C228.5 309 228 310.75 227 312.5C226 314.25 225.5 317 224 318.5C222.5 320 219.75 320.5 218 321.5C216.25 322.5 214.75 323.5 213.5 324.5C212.25 325.5 211.08 326.25 210.5 327.5C209.92 328.75 209.75 330.92 210 332C210.25 333.08 212.17 333.25 212 334C211.83 334.75 209.88 336.58 209 336.5C208.12 336.42 207.25 334.75 206.75 333.5C206.25 332.25 206.62 330.08 206 329C205.38 327.92 204.5 327.33 203 327C201.5 326.67 199 326.83 197 327C195 327.17 192.38 327.33 191 328C189.62 328.67 189.25 329.58 188.75 331C188.25 332.42 188.62 334.58 188 336.5C187.38 338.42 185.75 340.5 185 342.5C184.25 344.5 184.25 347.42 183.5 348.5C182.75 349.58 181.75 348.75 180.5 349C179.25 349.25 177.5 349.08 176 350C174.5 350.92 172.62 353 171.5 354.5C170.38 356 169.5 357.25 169.25 359C169 360.75 169.5 363.25 170 365C170.5 366.75 170.75 368.17 172.25 369.5C173.75 370.83 176.88 372.12 179 373C181.12 373.88 183.5 374.25 185 374.75C186.5 375.25 187.25 375.12 188 376C188.75 376.88 190 377.67 189.5 380C189 382.33 185.75 387.5 185 390C184.25 392.5 184.17 393.17 185 395C185.83 396.83 188.5 399.5 190 401C191.5 402.5 192.33 403.5 194 404C195.67 404.5 198.33 403.67 200 404C201.67 404.33 203.33 404.83 204 406C204.67 407.17 204.5 409.33 204 411C203.5 412.67 201 414.33 201 416C201 417.67 203.75 419.67 204 421C204.25 422.33 203.33 423.33 202.5 424C201.67 424.67 200.08 424.17 199 425C197.92 425.83 197.08 428 196 429C194.92 430 193.08 430 192.5 431C191.92 432 192.92 433.67 192.5 435C192.08 436.33 191.25 438.17 190 439C188.75 439.83 186 439.17 185 440C184 440.83 183.83 443 184 444C184.17 445 185.83 445.17 186 446C186.17 446.83 183.92 448.5 185 449C186.08 449.5 190.42 449 192.5 449C194.58 449 196.25 448.67 197.5 449C198.75 449.33 199.52 450 200 451C200.48 452 200.82 453.68 200.4 455C199.98 456.32 198.15 457.44 197.5 458.9C196.85 460.36 196.33 461.97 196.5 463.75C196.67 465.53 197.52 467.66 198.5 469.6C199.48 471.54 200.95 473.62 202.4 475.4C203.85 477.18 205.75 479 207.2 480.3C208.65 481.6 210.28 482.23 211.1 483.2C211.92 484.17 212.42 484.97 212.1 486.1C211.78 487.23 210.02 488.7 209.2 490C208.38 491.3 207.37 492.6 207.2 493.9C207.03 495.2 207.55 496.67 208.2 497.8C208.85 498.93 210.28 499.88 211.1 500.7C211.92 501.52 212.77 502.37 213.1 502.7" stroke="#111" stroke-width="1.7" fill="none" stroke-linejoin="round" stroke-linecap="round"/>
<path d="M174.5 315.5C175 314.75 177.62 315 179 314C180.38 313 181.75 309.5 182.75 309.5C183.75 309.5 184.12 312.75 185 314C185.88 315.25 186.5 316.25 188 317C189.5 317.75 192.5 317.75 194 318.5C195.5 319.25 196.75 320.62 197 321.5C197.25 322.38 196.75 323.12 195.5 323.75C194.25 324.38 191.25 324.88 189.5 325.25C187.75 325.62 186.75 326 185 326C183.25 326 180.25 326 179 325.25C177.75 324.5 178 322.62 177.5 321.5C177 320.38 176.5 319.5 176 318.5C175.5 317.5 174 316.25 174.5 315.5Z" stroke="#111" stroke-width="1.7" fill="none" stroke-linejoin="round" stroke-linecap="round"/>
<path d="M405 355C405.92 354.17 407.83 352.5 410 351C412.17 349.5 415.5 347.67 418 346C420.5 344.33 423 342.67 425 341C427 339.33 428 337.5 430 336C432 334.5 434.5 333.08 437 332C439.5 330.92 442.67 330.17 445 329.5C447.33 328.83 449.42 328.08 451 328C452.58 327.92 454.17 328.33 454.5 329C454.83 329.67 453.08 331 453 332C452.92 333 453.33 334.25 454 335C454.67 335.75 456.83 335.67 457 336.5C457.17 337.33 455.33 338.75 455 340C454.67 341.25 454.33 343 455 344C455.67 345 457.33 346 459 346C460.67 346 463.33 344.58 465 344C466.67 343.42 467.83 342.33 469 342.5C470.17 342.67 471.5 343.75 472 345C472.5 346.25 472.5 348.17 472 350C471.5 351.83 470.17 354.33 469 356C467.83 357.67 466 358.5 465 360C464 361.5 463.83 363.33 463 365C462.17 366.67 461.33 368.5 460 370C458.67 371.5 456.67 372.67 455 374C453.33 375.33 451.5 377.5 450 378C448.5 378.5 447.17 377.83 446 377C444.83 376.17 444.33 374 443 373C441.67 372 439.67 371.5 438 371C436.33 370.5 434.33 370.67 433 370C431.67 369.33 430.67 368.33 430 367C429.33 365.67 429.5 363.33 429 362C428.5 360.67 428.17 359.67 427 359C425.83 358.33 423.5 357.83 422 358C420.5 358.17 419.17 359.17 418 360C416.83 360.83 415.83 362.83 415 363C414.17 363.17 413.67 361.67 413 361C412.33 360.33 412.17 359.5 411 359C409.83 358.5 407.08 358.5 406 358C404.92 357.5 404.67 356.5 404.5 356C404.33 355.5 404.08 355.83 405 355Z" stroke="#111" stroke-width="1.7" fill="none" stroke-linejoin="round" stroke-linecap="round"/>
<path d="M494.4 323.75C495.02 322.83 495.94 322.02 497.5 321.5C499.06 320.98 501.67 320.68 503.75 320.6C505.83 320.52 508.12 320.68 510 321C511.88 321.32 513.33 321.83 515 322.5C516.67 323.17 518.43 324.08 520 325C521.57 325.92 523.15 326.83 524.4 328C525.65 329.17 527.07 330.73 527.5 332C527.93 333.27 527.62 334.6 527 335.6C526.38 336.6 524.92 337.6 523.75 338C522.58 338.4 521.25 338.33 520 338C518.75 337.67 517.71 336.83 516.25 336C514.79 335.17 512.81 333.83 511.25 333C509.69 332.17 508.36 331.5 506.9 331C505.44 330.5 503.98 330 502.5 330C501.02 330 499.15 331 498 331C496.85 331 496.31 330.67 495.6 330C494.89 329.33 493.95 328.04 493.75 327C493.55 325.96 493.77 324.67 494.4 323.75Z" stroke="#111" stroke-width="1.7" fill="none" stroke-linejoin="round" stroke-linecap="round"/>
<path d="M341.2 395.4C342 394.45 344.12 392.25 346 391.3C347.88 390.35 350.33 390.03 352.5 389.7C354.67 389.37 357.5 389.03 359 389.3C360.5 389.57 361.22 390.28 361.5 391.3C361.78 392.32 361.38 394.05 360.7 395.4C360.02 396.75 358.48 398.18 357.4 399.4C356.32 400.62 355.42 401.62 354.2 402.7C352.98 403.78 351.18 404.68 350.1 405.9C349.02 407.12 348.5 409.65 347.7 410C346.9 410.35 346.38 408.27 345.3 408C344.22 407.73 342.42 408.47 341.2 408.4C339.98 408.33 338.82 408.28 338 407.6C337.18 406.92 336.3 405.25 336.3 404.3C336.3 403.35 337.32 402.72 338 401.9C338.68 401.08 339.87 400.22 340.4 399.4C340.93 398.58 341.07 397.67 341.2 397C341.33 396.33 340.4 396.35 341.2 395.4Z" stroke="#111" stroke-width="1.7" fill="none" stroke-linejoin="round" stroke-linecap="round"/>
<path d="M348.5 417.3C349.05 416.9 350.32 416.23 351 416.5C351.68 416.77 352.07 418.1 352.6 418.9C353.13 419.7 353.4 420.77 354.2 421.3C355 421.83 356.73 421.68 357.4 422.1C358.07 422.52 358.47 423.32 358.2 423.8C357.93 424.28 356.73 425.13 355.8 425C354.87 424.87 353.68 423.33 352.6 423C351.52 422.67 350.18 423.28 349.3 423C348.42 422.72 347.57 421.98 347.3 421.3C347.03 420.62 347.5 419.57 347.7 418.9C347.9 418.23 347.95 417.7 348.5 417.3Z" stroke="#111" stroke-width="1.7" fill="none" stroke-linejoin="round" stroke-linecap="round"/>
</g>
<rect x="693" y="127" width="15" height="36.5" fill="rgb(192,0,0)"/>
<rect x="693" y="163" width="15" height="37.5" fill="rgb(200,52,0)"/>
<rect x="693" y="200" width="15" height="36.5" fill="rgb(205,115,0)"/>
<rect x="693" y="236" width="15" height="36.5" fill="rgb(208,184,0)"/>
<rect x="693" y="272" width="15" height="36.5" fill="rgb(160,206,0)"/>
<rect x="693" y="308" width="15" height="37.5" fill="rgb(97,211,0)"/>
<rect x="693" y="345" width="15" height="36.5" fill="rgb(28,213,0)"/>
<rect x="693" y="381" width="15" height="36.5" fill="rgb(0,215,42)"/>
<rect x="693" y="417" width="15" height="37" fill="rgb(0,220,120)"/>
<text x="712.3" y="168.6" font-size="17" textLength="18" lengthAdjust="spacingAndGlyphs">90</text>
<text x="712.3" y="205.6" font-size="17" textLength="18" lengthAdjust="spacingAndGlyphs">80</text>
<text x="712.3" y="241.6" font-size="17" textLength="18" lengthAdjust="spacingAndGlyphs">70</text>
<text x="712.3" y="277.6" font-size="17" textLength="18" lengthAdjust="spacingAndGlyphs">60</text>
<text x="712.3" y="313.6" font-size="17" textLength="18" lengthAdjust="spacingAndGlyphs">50</text>
<text x="712.3" y="350.6" font-size="17" textLength="18" lengthAdjust="spacingAndGlyphs">40</text>
<text x="712.3" y="386.6" font-size="17" textLength="18" lengthAdjust="spacingAndGlyphs">30</text>
<text x="712.3" y="422.6" font-size="17" textLength="18" lengthAdjust="spacingAndGlyphs">20</text>
<text x="712.3" y="459.6" font-size="17" textLength="18" lengthAdjust="spacingAndGlyphs">10</text>
<text transform="translate(68 35) scale(0.94 1)" font-size="15.8" textLength="118.62" lengthAdjust="spacing" style="stroke:#000;stroke-width:0.25px">PROBABILITAT</text>
<text transform="translate(190.5 35) scale(0.94 1)" font-size="15.8" textLength="115.96" lengthAdjust="spacing" style="stroke:#000;stroke-width:0.25px">PRECIPITACIO</text>
<text x="311.25" y="35" font-size="15.8" textLength="26.25" lengthAdjust="spacing" style="stroke:#000;stroke-width:0.25px">(en</text>
<text transform="translate(348 35) scale(0.94 1)" font-size="15.8" textLength="20.74" lengthAdjust="spacing" style="stroke:#000;stroke-width:0.25px">%)</text>
<text transform="translate(68.25 64.8) scale(1.1 1)" font-size="20.2" textLength="98.77" lengthAdjust="spacing" style="stroke:#fff;stroke-width:0.2px">Diumenge</text>
<text transform="translate(198.9 64.8) scale(1.15 1)" font-size="20.2" textLength="118.87" lengthAdjust="spacing" style="stroke:#fff;stroke-width:0.2px">14.des.2025</text>
<text transform="translate(351.5 64.8) scale(1.25 1)" font-size="20.2" textLength="70.8" lengthAdjust="spacing" style="stroke:#fff;stroke-width:0.2px">06&#8211;12h</text>
<text transform="translate(456.5 64.8) scale(0.9 1)" font-size="20.2" textLength="43.33" lengthAdjust="spacing" style="stroke:#fff;stroke-width:0.2px">UTC</text>
<text x="96.2" y="99.1" font-size="27" style="font-family:'Liberation Serif',serif;font-weight:bold;fill:#14588e;stroke:#14588e;stroke-width:0.55px" textLength="83.2" lengthAdjust="spacingAndGlyphs">ara.cat</text>
<text transform="translate(154 563.6) scale(1.1 1)" font-size="13.8" textLength="40.91" lengthAdjust="spacing" style="stroke:#000;stroke-width:0.35px">model</text>
<text x="206.5" y="563.6" font-size="13.8" textLength="26.5" lengthAdjust="spacingAndGlyphs" style="stroke:#000;stroke-width:0.35px">GFS</text>
<text transform="translate(241.6 563.6) scale(1.1 1)" font-size="13.8" textLength="30" lengthAdjust="spacing" style="stroke:#000;stroke-width:0.35px">0.25</text>
<text transform="translate(283.6 563.6) scale(1.1 1)" font-size="13.8" textLength="39" lengthAdjust="spacing" style="stroke:#000;stroke-width:0.35px">iniciat</text>
<text transform="translate(334 563.6) scale(1.1 1)" font-size="13.8" textLength="6.82" lengthAdjust="spacing" style="stroke:#000;stroke-width:0.35px">a</text>
<text transform="translate(352 563.6) scale(1.1 1)" font-size="13.8" textLength="19.09" lengthAdjust="spacing" style="stroke:#000;stroke-width:0.35px">les</text>
<text transform="translate(383.75 563.6) scale(1.1 1)" font-size="13.8" textLength="14.77" lengthAdjust="spacing" style="stroke:#000;stroke-width:0.35px">12</text>
<text x="410.7" y="563.6" font-size="13.8" textLength="25.8" lengthAdjust="spacingAndGlyphs" style="stroke:#000;stroke-width:0.35px">UTC</text>
<text transform="translate(447 563.6) scale(1.1 1)" font-size="13.8" textLength="17.27" lengthAdjust="spacing" style="stroke:#000;stroke-width:0.35px">del</text>
<text transform="translate(476.7 563.6) scale(1.1 1)" font-size="13.8" textLength="14.82" lengthAdjust="spacing" style="stroke:#000;stroke-width:0.35px">12</text>
<text transform="translate(504 563.6) scale(1.1 1)" font-size="13.8" textLength="21.82" lengthAdjust="spacing" style="stroke:#000;stroke-width:0.35px">des</text>
<text transform="translate(537.8 563.6) scale(1.1 1)" font-size="13.8" textLength="32.45" lengthAdjust="spacing" style="stroke:#000;stroke-width:0.35px">2025</text>
</svg>
</body></html>
